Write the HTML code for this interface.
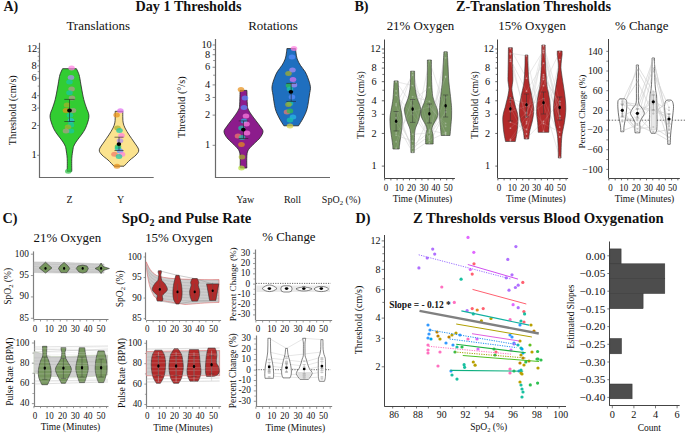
<!DOCTYPE html>
<html><head><meta charset="utf-8"><style>
html,body{margin:0;padding:0;background:#fff;}
svg{display:block;font-family:"Liberation Serif", serif;}
</style></head><body>
<svg width="685" height="435" viewBox="0 0 685 435">
<rect width="685" height="435" fill="#fff"/>
<text x="3.4" y="11.2" font-size="14.0" text-anchor="start" font-weight="bold" fill="#111">A)</text>
<text x="188.5" y="11.3" font-size="14.2" text-anchor="middle" font-weight="bold" fill="#111">Day 1 Thresholds</text>
<text x="98.2" y="30" font-size="12.96" text-anchor="middle" fill="#111">Translations</text>
<text x="273" y="30" font-size="12.96" text-anchor="middle" fill="#111">Rotations</text>
<line x1="39.50" y1="42.80" x2="39.50" y2="178.00" stroke="#6a6a6a" stroke-width="1.2"/>
<line x1="37.20" y1="155.30" x2="39.70" y2="155.30" stroke="#6a6a6a" stroke-width="0.8"/>
<text x="36.7" y="158.42000000000002" font-size="10.4" text-anchor="end" fill="#111">1</text>
<line x1="37.20" y1="125.50" x2="39.70" y2="125.50" stroke="#6a6a6a" stroke-width="0.8"/>
<text x="36.7" y="128.61803042926587" font-size="10.4" text-anchor="end" fill="#111">2</text>
<line x1="37.20" y1="108.06" x2="39.70" y2="108.06" stroke="#6a6a6a" stroke-width="0.8"/>
<text x="36.7" y="111.18499578275343" font-size="10.4" text-anchor="end" fill="#111">3</text>
<line x1="37.20" y1="95.70" x2="39.70" y2="95.70" stroke="#6a6a6a" stroke-width="0.8"/>
<text x="36.7" y="98.81606085853174" font-size="10.4" text-anchor="end" fill="#111">4</text>
<line x1="37.20" y1="78.26" x2="39.70" y2="78.26" stroke="#6a6a6a" stroke-width="0.8"/>
<text x="36.7" y="81.3830262120193" font-size="10.4" text-anchor="end" fill="#111">6</text>
<line x1="37.20" y1="65.89" x2="39.70" y2="65.89" stroke="#6a6a6a" stroke-width="0.8"/>
<text x="36.7" y="69.01409128779761" font-size="10.4" text-anchor="end" fill="#111">8</text>
<line x1="37.20" y1="48.46" x2="39.70" y2="48.46" stroke="#6a6a6a" stroke-width="0.8"/>
<text x="37.3" y="51.58105664128515" font-size="10.4" text-anchor="end" fill="#111">12</text>
<line x1="37.70" y1="86.10" x2="39.70" y2="86.10" stroke="#6a6a6a" stroke-width="0.7"/>
<line x1="37.70" y1="71.64" x2="39.70" y2="71.64" stroke="#6a6a6a" stroke-width="0.7"/>
<line x1="37.70" y1="60.83" x2="39.70" y2="60.83" stroke="#6a6a6a" stroke-width="0.7"/>
<line x1="37.70" y1="56.30" x2="39.70" y2="56.30" stroke="#6a6a6a" stroke-width="0.7"/>
<line x1="37.70" y1="52.20" x2="39.70" y2="52.20" stroke="#6a6a6a" stroke-width="0.7"/>
<line x1="39.70" y1="177.50" x2="153.70" y2="177.50" stroke="#6a6a6a" stroke-width="1.2"/>
<text x="16.2" y="110.2" font-size="10.2" text-anchor="middle" fill="#111" transform="rotate(-90 16.2 110.2)">Threshold (cm/s)</text>
<text x="69.5" y="203" font-size="10" text-anchor="middle" fill="#111">Z</text>
<text x="120.5" y="203" font-size="10" text-anchor="middle" fill="#111">Y</text>
<path d="M76.40,68.70 C76.67,69.25 77.48,70.70 78.00,72.00 C78.52,73.30 78.92,73.83 79.50,76.50 C80.08,79.17 80.78,84.17 81.50,88.00 C82.22,91.83 82.97,96.17 83.80,99.50 C84.63,102.83 85.72,105.70 86.50,108.00 C87.28,110.30 88.10,111.77 88.50,113.30 C88.90,114.83 89.02,115.75 88.90,117.20 C88.78,118.65 88.40,120.08 87.80,122.00 C87.20,123.92 86.27,126.70 85.30,128.70 C84.33,130.70 83.05,132.47 82.00,134.00 C80.95,135.53 80.00,136.57 79.00,137.90 C78.00,139.23 76.87,140.65 76.00,142.00 C75.13,143.35 74.30,144.80 73.80,146.00 C73.30,147.20 73.33,147.13 73.00,149.20 C72.67,151.27 72.00,154.72 71.80,158.40 C71.60,162.08 71.80,169.15 71.80,171.30 L67.20,171.30 C67.20,169.15 67.40,162.08 67.20,158.40 C67.00,154.72 66.33,151.27 66.00,149.20 C65.67,147.13 65.70,147.20 65.20,146.00 C64.70,144.80 63.87,143.35 63.00,142.00 C62.13,140.65 61.00,139.23 60.00,137.90 C59.00,136.57 58.05,135.53 57.00,134.00 C55.95,132.47 54.67,130.70 53.70,128.70 C52.73,126.70 51.80,123.92 51.20,122.00 C50.60,120.08 50.22,118.65 50.10,117.20 C49.98,115.75 50.10,114.83 50.50,113.30 C50.90,111.77 51.72,110.30 52.50,108.00 C53.28,105.70 54.37,102.83 55.20,99.50 C56.03,96.17 56.78,91.83 57.50,88.00 C58.22,84.17 58.92,79.17 59.50,76.50 C60.08,73.83 60.48,73.30 61.00,72.00 C61.52,70.70 62.33,69.25 62.60,68.70 Z" fill="#32cd32" stroke="#222" stroke-width="0.8" fill-opacity="1"/>
<ellipse cx="71.6" cy="68" rx="3.3" ry="2.5" fill="#ff7ee0" fill-opacity="0.72"/>
<ellipse cx="71" cy="77.6" rx="3.3" ry="2.5" fill="#b08cf5" fill-opacity="0.72"/>
<ellipse cx="69.5" cy="82" rx="3.3" ry="2.5" fill="#18c8a8" fill-opacity="0.72"/>
<ellipse cx="71.6" cy="89" rx="3.3" ry="2.5" fill="#b39a8c" fill-opacity="0.72"/>
<ellipse cx="69.5" cy="92.7" rx="3.3" ry="2.5" fill="#18c8a8" fill-opacity="0.72"/>
<ellipse cx="72" cy="98" rx="3.3" ry="2.5" fill="#b39a8c" fill-opacity="0.72"/>
<ellipse cx="67" cy="105" rx="3.3" ry="2.5" fill="#a8b02a" fill-opacity="0.72"/>
<ellipse cx="66" cy="110.5" rx="3.3" ry="2.5" fill="#e8901a" fill-opacity="0.72"/>
<ellipse cx="73" cy="110.5" rx="3.3" ry="2.5" fill="#b39a8c" fill-opacity="0.72"/>
<ellipse cx="70" cy="115.3" rx="3.3" ry="2.5" fill="#18c8a8" fill-opacity="0.72"/>
<ellipse cx="71" cy="120.6" rx="3.3" ry="2.5" fill="#28b8e8" fill-opacity="0.72"/>
<ellipse cx="71" cy="125" rx="3.3" ry="2.5" fill="#18c8a8" fill-opacity="0.72"/>
<ellipse cx="68" cy="127" rx="3.3" ry="2.5" fill="#a8b02a" fill-opacity="0.72"/>
<ellipse cx="71" cy="131" rx="3.3" ry="2.5" fill="#18c8a8" fill-opacity="0.72"/>
<ellipse cx="66" cy="131" rx="3.3" ry="2.5" fill="#b39a8c" fill-opacity="0.72"/>
<ellipse cx="68.3" cy="171.3" rx="3.3" ry="2.5" fill="#30c048" fill-opacity="0.72"/>
<line x1="69.50" y1="99.40" x2="69.50" y2="121.50" stroke="#222" stroke-width="0.6"/>
<line x1="64.30" y1="99.40" x2="74.70" y2="99.40" stroke="#222" stroke-width="0.6"/>
<line x1="64.30" y1="121.50" x2="74.70" y2="121.50" stroke="#222" stroke-width="0.6"/>
<ellipse cx="69.5" cy="110.4" rx="2.4" ry="2.0" fill="#000"/>
<path d="M122.80,111.30 C122.80,112.42 122.73,116.07 122.80,118.00 C122.87,119.93 122.83,121.23 123.20,122.90 C123.57,124.57 124.02,126.00 125.00,128.00 C125.98,130.00 127.60,132.57 129.10,134.90 C130.60,137.23 132.40,139.52 134.00,142.00 C135.60,144.48 138.37,147.63 138.70,149.80 C139.03,151.97 137.45,153.30 136.00,155.00 C134.55,156.70 132.00,158.13 130.00,160.00 C128.00,161.87 125.00,165.17 124.00,166.20 L114.00,166.20 C113.00,165.17 110.00,161.87 108.00,160.00 C106.00,158.13 103.45,156.70 102.00,155.00 C100.55,153.30 98.97,151.97 99.30,149.80 C99.63,147.63 102.40,144.48 104.00,142.00 C105.60,139.52 107.40,137.23 108.90,134.90 C110.40,132.57 112.02,130.00 113.00,128.00 C113.98,126.00 114.43,124.57 114.80,122.90 C115.17,121.23 115.13,119.93 115.20,118.00 C115.27,116.07 115.20,112.42 115.20,111.30 Z" fill="#fbe38f" stroke="#222" stroke-width="0.8" fill-opacity="1"/>
<ellipse cx="120.4" cy="110.7" rx="3.3" ry="2.5" fill="#e070f0" fill-opacity="0.72"/>
<ellipse cx="116.6" cy="115.1" rx="3.3" ry="2.5" fill="#e8901a" fill-opacity="0.72"/>
<ellipse cx="117.5" cy="128.1" rx="3.3" ry="2.5" fill="#a8b02a" fill-opacity="0.72"/>
<ellipse cx="119.5" cy="130.4" rx="3.3" ry="2.5" fill="#18c8a8" fill-opacity="0.72"/>
<ellipse cx="121.5" cy="135.6" rx="3.3" ry="2.5" fill="#ff7ee0" fill-opacity="0.72"/>
<ellipse cx="120" cy="140.8" rx="3.3" ry="2.5" fill="#b08cf5" fill-opacity="0.72"/>
<ellipse cx="118" cy="146.8" rx="3.3" ry="2.5" fill="#30c048" fill-opacity="0.72"/>
<ellipse cx="118" cy="148.5" rx="3.3" ry="2.5" fill="#18c8a8" fill-opacity="0.72"/>
<ellipse cx="120" cy="151" rx="3.3" ry="2.5" fill="#5a8cff" fill-opacity="0.72"/>
<ellipse cx="114.5" cy="154.3" rx="3.3" ry="2.5" fill="#f27a6a" fill-opacity="0.72"/>
<ellipse cx="122" cy="154.3" rx="3.3" ry="2.5" fill="#ff7ee0" fill-opacity="0.72"/>
<ellipse cx="119" cy="156.5" rx="3.3" ry="2.5" fill="#18c8a8" fill-opacity="0.72"/>
<ellipse cx="117" cy="166.2" rx="3.3" ry="2.5" fill="#e8901a" fill-opacity="0.72"/>
<line x1="119.00" y1="137.20" x2="119.00" y2="150.50" stroke="#222" stroke-width="0.6"/>
<line x1="114.50" y1="137.20" x2="123.50" y2="137.20" stroke="#222" stroke-width="0.6"/>
<line x1="114.50" y1="150.50" x2="123.50" y2="150.50" stroke="#222" stroke-width="0.6"/>
<ellipse cx="118.9" cy="144.1" rx="2.3" ry="1.9" fill="#000"/>
<line x1="215.50" y1="39.00" x2="215.50" y2="178.00" stroke="#6a6a6a" stroke-width="1.2"/>
<line x1="212.60" y1="145.30" x2="215.10" y2="145.30" stroke="#6a6a6a" stroke-width="0.8"/>
<text x="210.2" y="148.42000000000002" font-size="10.4" text-anchor="end" fill="#111">1</text>
<line x1="212.60" y1="115.11" x2="215.10" y2="115.11" stroke="#6a6a6a" stroke-width="0.8"/>
<text x="210.2" y="118.2266914349027" font-size="10.4" text-anchor="end" fill="#111">2</text>
<line x1="212.60" y1="97.44" x2="215.10" y2="97.44" stroke="#6a6a6a" stroke-width="0.8"/>
<text x="210.2" y="100.56473815161787" font-size="10.4" text-anchor="end" fill="#111">3</text>
<line x1="212.60" y1="84.91" x2="215.10" y2="84.91" stroke="#6a6a6a" stroke-width="0.8"/>
<text x="210.2" y="88.0333828698054" font-size="10.4" text-anchor="end" fill="#111">4</text>
<line x1="212.60" y1="67.25" x2="215.10" y2="67.25" stroke="#6a6a6a" stroke-width="0.8"/>
<text x="210.2" y="70.37142958652056" font-size="10.4" text-anchor="end" fill="#111">6</text>
<line x1="212.60" y1="54.72" x2="215.10" y2="54.72" stroke="#6a6a6a" stroke-width="0.8"/>
<text x="210.2" y="57.840074304708075" font-size="10.4" text-anchor="end" fill="#111">8</text>
<line x1="212.60" y1="45.00" x2="215.10" y2="45.00" stroke="#6a6a6a" stroke-width="0.8"/>
<text x="211.8" y="48.12000000000001" font-size="10.4" text-anchor="end" fill="#111">10</text>
<line x1="213.10" y1="75.19" x2="215.10" y2="75.19" stroke="#6a6a6a" stroke-width="0.7"/>
<line x1="213.10" y1="60.54" x2="215.10" y2="60.54" stroke="#6a6a6a" stroke-width="0.7"/>
<line x1="213.10" y1="49.59" x2="215.10" y2="49.59" stroke="#6a6a6a" stroke-width="0.7"/>
<line x1="215.10" y1="177.50" x2="330.00" y2="177.50" stroke="#6a6a6a" stroke-width="1.2"/>
<text x="185.3" y="107.2" font-size="10.2" text-anchor="middle" fill="#111" transform="rotate(-90 185.3 107.2)">Threshold (°/s)</text>
<text x="245.2" y="203" font-size="10" text-anchor="middle" fill="#111">Yaw</text>
<text x="292.5" y="203" font-size="10" text-anchor="middle" fill="#111">Roll</text>
<path d="M246.90,90.40 C246.96,92.48 247.07,99.82 247.25,102.90 C247.43,105.98 247.28,106.90 248.00,108.90 C248.72,110.90 250.25,112.90 251.60,114.90 C252.95,116.90 254.62,118.92 256.10,120.90 C257.58,122.88 259.35,125.02 260.50,126.80 C261.65,128.58 263.05,129.80 263.00,131.60 C262.95,133.40 261.65,135.62 260.20,137.60 C258.75,139.58 256.23,141.52 254.30,143.50 C252.37,145.48 249.83,147.50 248.60,149.50 C247.37,151.50 247.20,152.42 246.90,155.50 C246.60,158.58 246.82,165.92 246.80,168.00 L240.20,168.00 C240.18,165.92 240.40,158.58 240.10,155.50 C239.80,152.42 239.63,151.50 238.40,149.50 C237.17,147.50 234.63,145.48 232.70,143.50 C230.77,141.52 228.25,139.58 226.80,137.60 C225.35,135.62 224.05,133.40 224.00,131.60 C223.95,129.80 225.35,128.58 226.50,126.80 C227.65,125.02 229.42,122.88 230.90,120.90 C232.38,118.92 234.05,116.90 235.40,114.90 C236.75,112.90 238.28,110.90 239.00,108.90 C239.72,106.90 239.57,105.98 239.75,102.90 C239.93,99.82 240.04,92.48 240.10,90.40 Z" fill="#8c1c8c" stroke="#222" stroke-width="0.8" fill-opacity="1"/>
<ellipse cx="241" cy="89.5" rx="3.3" ry="2.5" fill="#e8901a" fill-opacity="0.72"/>
<ellipse cx="245" cy="98" rx="3.3" ry="2.5" fill="#5a8cff" fill-opacity="0.72"/>
<ellipse cx="244" cy="107.5" rx="3.3" ry="2.5" fill="#5a8cff" fill-opacity="0.72"/>
<ellipse cx="246" cy="116" rx="3.3" ry="2.5" fill="#ff7ee0" fill-opacity="0.72"/>
<ellipse cx="244" cy="121" rx="3.3" ry="2.5" fill="#28b8e8" fill-opacity="0.72"/>
<ellipse cx="246.5" cy="124" rx="3.3" ry="2.5" fill="#ff7ee0" fill-opacity="0.72"/>
<ellipse cx="241.5" cy="128" rx="3.3" ry="2.5" fill="#18c8a8" fill-opacity="0.72"/>
<ellipse cx="247" cy="133" rx="3.3" ry="2.5" fill="#ff7ee0" fill-opacity="0.72"/>
<ellipse cx="238" cy="136" rx="3.3" ry="2.5" fill="#f27a6a" fill-opacity="0.72"/>
<ellipse cx="242" cy="137.5" rx="3.3" ry="2.5" fill="#18c8a8" fill-opacity="0.72"/>
<ellipse cx="241.5" cy="144.5" rx="3.3" ry="2.5" fill="#e8901a" fill-opacity="0.72"/>
<ellipse cx="242" cy="157" rx="3.3" ry="2.5" fill="#a8b02a" fill-opacity="0.72"/>
<ellipse cx="241.5" cy="168" rx="3.3" ry="2.5" fill="#b8e040" fill-opacity="0.72"/>
<line x1="243.50" y1="120.90" x2="243.50" y2="138.50" stroke="#222" stroke-width="0.6"/>
<line x1="238.70" y1="120.90" x2="248.30" y2="120.90" stroke="#222" stroke-width="0.6"/>
<line x1="238.70" y1="138.50" x2="248.30" y2="138.50" stroke="#222" stroke-width="0.6"/>
<ellipse cx="243.3" cy="129.6" rx="2.3" ry="1.9" fill="#000"/>
<path d="M295.50,48.60 C295.58,49.33 295.72,51.27 296.00,53.00 C296.28,54.73 296.47,56.95 297.20,59.00 C297.93,61.05 299.10,63.20 300.40,65.30 C301.70,67.40 303.75,69.50 305.00,71.60 C306.25,73.70 307.00,75.37 307.90,77.90 C308.80,80.43 310.15,83.95 310.40,86.80 C310.65,89.65 309.95,91.33 309.40,95.00 C308.85,98.67 308.13,104.97 307.10,108.80 C306.07,112.63 304.63,115.17 303.20,118.00 C301.77,120.83 299.28,124.50 298.50,125.80 L283.90,125.80 C283.12,124.50 280.63,120.83 279.20,118.00 C277.77,115.17 276.33,112.63 275.30,108.80 C274.27,104.97 273.55,98.67 273.00,95.00 C272.45,91.33 271.75,89.65 272.00,86.80 C272.25,83.95 273.60,80.43 274.50,77.90 C275.40,75.37 276.15,73.70 277.40,71.60 C278.65,69.50 280.70,67.40 282.00,65.30 C283.30,63.20 284.47,61.05 285.20,59.00 C285.93,56.95 286.12,54.73 286.40,53.00 C286.68,51.27 286.82,49.33 286.90,48.60 Z" fill="#1f6fbf" stroke="#222" stroke-width="0.8" fill-opacity="1"/>
<ellipse cx="294" cy="48.6" rx="3.3" ry="2.5" fill="#ff7ee0" fill-opacity="0.72"/>
<ellipse cx="292" cy="57" rx="3.3" ry="2.5" fill="#5a8cff" fill-opacity="0.72"/>
<ellipse cx="292.5" cy="70" rx="3.3" ry="2.5" fill="#b08cf5" fill-opacity="0.72"/>
<ellipse cx="288.5" cy="73.5" rx="3.3" ry="2.5" fill="#a8b02a" fill-opacity="0.72"/>
<ellipse cx="293" cy="79.5" rx="3.3" ry="2.5" fill="#e070f0" fill-opacity="0.72"/>
<ellipse cx="289" cy="85.5" rx="3.3" ry="2.5" fill="#30c048" fill-opacity="0.72"/>
<ellipse cx="294" cy="85" rx="3.3" ry="2.5" fill="#b08cf5" fill-opacity="0.72"/>
<ellipse cx="290" cy="89" rx="3.3" ry="2.5" fill="#18c8a8" fill-opacity="0.72"/>
<ellipse cx="292" cy="97" rx="3.3" ry="2.5" fill="#5a8cff" fill-opacity="0.72"/>
<ellipse cx="290" cy="103.5" rx="3.3" ry="2.5" fill="#18c8a8" fill-opacity="0.72"/>
<ellipse cx="288.5" cy="104.5" rx="3.3" ry="2.5" fill="#a8b02a" fill-opacity="0.72"/>
<ellipse cx="287" cy="112" rx="3.3" ry="2.5" fill="#f27a6a" fill-opacity="0.72"/>
<ellipse cx="290" cy="111" rx="3.3" ry="2.5" fill="#30c048" fill-opacity="0.72"/>
<ellipse cx="293" cy="117" rx="3.3" ry="2.5" fill="#28b8e8" fill-opacity="0.72"/>
<ellipse cx="290" cy="120" rx="3.3" ry="2.5" fill="#18c8a8" fill-opacity="0.72"/>
<ellipse cx="290" cy="126" rx="3.3" ry="2.5" fill="#d8d040" fill-opacity="0.72"/>
<line x1="291.20" y1="83.40" x2="291.20" y2="101.40" stroke="#222" stroke-width="0.6"/>
<line x1="286.40" y1="83.40" x2="296.00" y2="83.40" stroke="#222" stroke-width="0.6"/>
<line x1="286.40" y1="101.40" x2="296.00" y2="101.40" stroke="#222" stroke-width="0.6"/>
<ellipse cx="290.9" cy="91.8" rx="2.3" ry="1.9" fill="#000"/>
<text x="354.4" y="11.3" font-size="14.2" text-anchor="start" font-weight="bold" fill="#111">B)</text>
<text x="533.5" y="11" font-size="14.2" text-anchor="middle" font-weight="bold" fill="#111">Z-Translation Thresholds</text>
<text x="420.5" y="30" font-size="12.9" text-anchor="middle" fill="#111">21% Oxygen</text>
<text x="532.1" y="30" font-size="12.9" text-anchor="middle" fill="#111">15% Oxygen</text>
<text x="641.7" y="30" font-size="12.9" text-anchor="middle" fill="#111">% Change</text>
<line x1="384.50" y1="39.50" x2="384.50" y2="178.20" stroke="#444" stroke-width="1"/>
<line x1="381.80" y1="166.10" x2="384.30" y2="166.10" stroke="#444" stroke-width="0.8"/>
<text x="376.7" y="169.19" font-size="10.3" text-anchor="end" fill="#111">1</text>
<line x1="381.80" y1="133.44" x2="384.30" y2="133.44" stroke="#444" stroke-width="0.8"/>
<text x="376.7" y="136.52824547045805" font-size="10.3" text-anchor="end" fill="#111">2</text>
<line x1="381.80" y1="114.33" x2="384.30" y2="114.33" stroke="#444" stroke-width="0.8"/>
<text x="376.7" y="117.42234386291662" font-size="10.3" text-anchor="end" fill="#111">3</text>
<line x1="381.80" y1="100.78" x2="384.30" y2="100.78" stroke="#444" stroke-width="0.8"/>
<text x="376.7" y="103.86649094091608" font-size="10.3" text-anchor="end" fill="#111">4</text>
<line x1="381.80" y1="81.67" x2="384.30" y2="81.67" stroke="#444" stroke-width="0.8"/>
<text x="376.7" y="84.76058933337467" font-size="10.3" text-anchor="end" fill="#111">6</text>
<line x1="381.80" y1="68.11" x2="384.30" y2="68.11" stroke="#444" stroke-width="0.8"/>
<text x="376.7" y="71.20473641137413" font-size="10.3" text-anchor="end" fill="#111">8</text>
<line x1="381.80" y1="49.01" x2="384.30" y2="49.01" stroke="#444" stroke-width="0.8"/>
<text x="380.6" y="52.0988348038327" font-size="10.3" text-anchor="end" fill="#111">12</text>
<line x1="382.30" y1="90.26" x2="384.30" y2="90.26" stroke="#444" stroke-width="0.7"/>
<line x1="382.30" y1="74.41" x2="384.30" y2="74.41" stroke="#444" stroke-width="0.7"/>
<line x1="382.30" y1="62.56" x2="384.30" y2="62.56" stroke="#444" stroke-width="0.7"/>
<line x1="382.30" y1="57.60" x2="384.30" y2="57.60" stroke="#444" stroke-width="0.7"/>
<line x1="382.30" y1="53.11" x2="384.30" y2="53.11" stroke="#444" stroke-width="0.7"/>
<line x1="384.70" y1="178.50" x2="454.90" y2="178.50" stroke="#444" stroke-width="1"/>
<line x1="384.70" y1="178.20" x2="384.70" y2="180.40" stroke="#444" stroke-width="0.8"/>
<line x1="390.90" y1="178.20" x2="390.90" y2="180.40" stroke="#444" stroke-width="0.8"/>
<line x1="397.10" y1="178.20" x2="397.10" y2="180.40" stroke="#444" stroke-width="0.8"/>
<line x1="403.30" y1="178.20" x2="403.30" y2="180.40" stroke="#444" stroke-width="0.8"/>
<line x1="409.50" y1="178.20" x2="409.50" y2="180.40" stroke="#444" stroke-width="0.8"/>
<line x1="415.70" y1="178.20" x2="415.70" y2="180.40" stroke="#444" stroke-width="0.8"/>
<line x1="421.90" y1="178.20" x2="421.90" y2="180.40" stroke="#444" stroke-width="0.8"/>
<line x1="428.10" y1="178.20" x2="428.10" y2="180.40" stroke="#444" stroke-width="0.8"/>
<line x1="434.30" y1="178.20" x2="434.30" y2="180.40" stroke="#444" stroke-width="0.8"/>
<line x1="440.50" y1="178.20" x2="440.50" y2="180.40" stroke="#444" stroke-width="0.8"/>
<line x1="446.70" y1="178.20" x2="446.70" y2="180.40" stroke="#444" stroke-width="0.8"/>
<line x1="452.90" y1="178.20" x2="452.90" y2="180.40" stroke="#444" stroke-width="0.8"/>
<text x="0" y="0" font-size="10.2" text-anchor="middle" fill="#111" transform="translate(385.9 190.6) scale(0.88 1)">0</text>
<text x="0" y="0" font-size="10.2" text-anchor="middle" fill="#111" transform="translate(399.2 190.6) scale(0.88 1)">10</text>
<text x="0" y="0" font-size="10.2" text-anchor="middle" fill="#111" transform="translate(411.6 190.6) scale(0.88 1)">20</text>
<text x="0" y="0" font-size="10.2" text-anchor="middle" fill="#111" transform="translate(424 190.6) scale(0.88 1)">30</text>
<text x="0" y="0" font-size="10.2" text-anchor="middle" fill="#111" transform="translate(435.8 190.6) scale(0.88 1)">40</text>
<text x="0" y="0" font-size="10.2" text-anchor="middle" fill="#111" transform="translate(448.2 190.6) scale(0.88 1)">50</text>
<text x="422.5" y="202.2" font-size="9.5" text-anchor="middle" fill="#111">Time (Minutes)</text>
<text x="364.4" y="105" font-size="9.9" text-anchor="middle" fill="#111" transform="rotate(-90 364.4 105)">Threshold (cm/s)</text>
<path d="M396.1,117.9 L412.6,145.8 L429.4,131.7 L445.6,52.6" fill="none" stroke="#d4d4d4" stroke-width="0.5" stroke-opacity="1.0"/>
<path d="M396.1,135.2 L412.6,141.2 L429.4,60.8 L445.6,109.5" fill="none" stroke="#d4d4d4" stroke-width="0.5" stroke-opacity="1.0"/>
<path d="M396.1,90.8 L412.6,134.3 L429.4,132.9 L445.6,76.3" fill="none" stroke="#d4d4d4" stroke-width="0.5" stroke-opacity="1.0"/>
<path d="M396.1,117.6 L412.6,72.0 L429.4,130.2 L445.6,133.8" fill="none" stroke="#d4d4d4" stroke-width="0.5" stroke-opacity="1.0"/>
<path d="M396.1,81.7 L412.6,85.6 L429.4,106.0 L445.6,126.4" fill="none" stroke="#d4d4d4" stroke-width="0.5" stroke-opacity="1.0"/>
<path d="M396.1,148.2 L412.6,96.6 L429.4,101.3 L445.6,132.5" fill="none" stroke="#d4d4d4" stroke-width="0.5" stroke-opacity="1.0"/>
<path d="M396.1,141.8 L412.6,100.1 L429.4,87.4 L445.6,134.7" fill="none" stroke="#d4d4d4" stroke-width="0.5" stroke-opacity="1.0"/>
<path d="M396.1,95.2 L412.6,114.6 L429.4,137.5 L445.6,57.8" fill="none" stroke="#d4d4d4" stroke-width="0.5" stroke-opacity="1.0"/>
<path d="M396.1,105.5 L412.6,151.8 L429.4,140.4 L445.6,132.8" fill="none" stroke="#d4d4d4" stroke-width="0.5" stroke-opacity="1.0"/>
<path d="M396.1,112.8 L412.6,148.2 L429.4,135.8 L445.6,111.9" fill="none" stroke="#d4d4d4" stroke-width="0.5" stroke-opacity="1.0"/>
<path d="M396.1,133.0 L412.6,111.4 L429.4,107.0 L445.6,123.4" fill="none" stroke="#d4d4d4" stroke-width="0.5" stroke-opacity="1.0"/>
<path d="M396.1,122.9 L412.6,152.3 L429.4,116.6 L445.6,77.0" fill="none" stroke="#d4d4d4" stroke-width="0.5" stroke-opacity="1.0"/>
<path d="M396.1,81.8 L412.6,105.5 L429.4,138.8 L445.6,97.7" fill="none" stroke="#d4d4d4" stroke-width="0.5" stroke-opacity="1.0"/>
<path d="M396.1,103.9 L412.6,75.0 L429.4,143.2 L445.6,111.9" fill="none" stroke="#d4d4d4" stroke-width="0.5" stroke-opacity="1.0"/>
<path d="M398.12,80.90 C398.20,82.42 398.41,87.10 398.59,90.00 C398.76,92.90 398.93,95.97 399.16,98.30 C399.39,100.63 399.64,102.00 399.97,104.00 C400.29,106.00 400.79,108.47 401.12,110.30 C401.44,112.13 401.73,113.38 401.92,115.00 C402.11,116.62 402.27,118.00 402.27,120.00 C402.27,122.00 402.13,124.58 401.92,127.00 C401.71,129.42 401.29,132.33 401.00,134.50 C400.71,136.67 400.44,138.20 400.20,140.00 C399.95,141.80 399.66,143.80 399.50,145.30 C399.35,146.80 399.31,148.38 399.28,149.00 L392.93,149.00 C392.89,148.38 392.85,146.80 392.70,145.30 C392.54,143.80 392.25,141.80 392.00,140.00 C391.76,138.20 391.49,136.67 391.20,134.50 C390.91,132.33 390.49,129.42 390.28,127.00 C390.07,124.58 389.94,122.00 389.94,120.00 C389.94,118.00 390.09,116.62 390.28,115.00 C390.47,113.38 390.76,112.13 391.09,110.30 C391.41,108.47 391.91,106.00 392.24,104.00 C392.56,102.00 392.81,100.63 393.04,98.30 C393.27,95.97 393.44,92.90 393.62,90.00 C393.79,87.10 394.00,82.42 394.08,80.90 Z" fill="#759460" stroke="#333" stroke-width="0.6" fill-opacity="1"/>
<path d="M414.62,71.20 C414.62,72.33 414.57,75.50 414.62,78.00 C414.68,80.50 414.78,83.87 414.97,86.20 C415.16,88.53 415.41,89.98 415.78,92.00 C416.14,94.02 416.56,96.30 417.16,98.30 C417.75,100.30 418.75,102.20 419.34,104.00 C419.93,105.80 420.61,107.27 420.72,109.10 C420.84,110.93 420.51,112.78 420.03,115.00 C419.55,117.22 418.54,120.40 417.85,122.40 C417.16,124.40 416.41,125.40 415.89,127.00 C415.37,128.60 414.99,129.83 414.74,132.00 C414.49,134.17 414.47,136.57 414.40,140.00 C414.32,143.43 414.30,150.50 414.28,152.60 L410.92,152.60 C410.90,150.50 410.88,143.43 410.81,140.00 C410.73,136.57 410.71,134.17 410.46,132.00 C410.21,129.83 409.83,128.60 409.31,127.00 C408.79,125.40 408.05,124.40 407.36,122.40 C406.67,120.40 405.65,117.22 405.17,115.00 C404.69,112.78 404.37,110.93 404.48,109.10 C404.60,107.27 405.27,105.80 405.86,104.00 C406.45,102.20 407.45,100.30 408.05,98.30 C408.64,96.30 409.06,94.02 409.43,92.00 C409.79,89.98 410.04,88.53 410.23,86.20 C410.42,83.87 410.52,80.50 410.58,78.00 C410.63,75.50 410.58,72.33 410.58,71.20 Z" fill="#759460" stroke="#333" stroke-width="0.6" fill-opacity="1"/>
<path d="M431.42,60.00 C431.42,61.67 431.39,66.47 431.42,70.00 C431.46,73.53 431.50,77.32 431.65,81.20 C431.81,85.08 432.10,90.50 432.34,93.30 C432.59,96.10 432.77,96.40 433.15,98.00 C433.53,99.60 434.03,101.23 434.64,102.90 C435.26,104.57 436.27,106.18 436.83,108.00 C437.39,109.82 437.96,112.13 437.98,113.80 C438.00,115.47 437.50,116.60 436.94,118.00 C436.39,119.40 435.35,120.87 434.64,122.20 C433.94,123.53 433.15,124.78 432.69,126.00 C432.23,127.22 431.88,128.33 431.88,129.50 C431.88,130.67 432.48,131.80 432.69,133.00 C432.90,134.20 433.07,134.87 433.15,136.70 C433.23,138.53 433.15,142.78 433.15,144.00 L425.65,144.00 C425.65,142.78 425.57,138.53 425.65,136.70 C425.73,134.87 425.90,134.20 426.11,133.00 C426.32,131.80 426.91,130.67 426.91,129.50 C426.91,128.33 426.57,127.22 426.11,126.00 C425.65,124.78 424.86,123.53 424.15,122.20 C423.45,120.87 422.41,119.40 421.85,118.00 C421.30,116.60 420.80,115.47 420.82,113.80 C420.84,112.13 421.41,109.82 421.97,108.00 C422.53,106.18 423.54,104.57 424.15,102.90 C424.77,101.23 425.27,99.60 425.65,98.00 C426.03,96.40 426.21,96.10 426.45,93.30 C426.70,90.50 426.99,85.08 427.14,81.20 C427.30,77.32 427.34,73.53 427.38,70.00 C427.41,66.47 427.38,61.67 427.38,60.00 Z" fill="#759460" stroke="#333" stroke-width="0.6" fill-opacity="1"/>
<path d="M447.28,51.80 C447.36,53.17 447.59,57.12 447.74,60.00 C447.89,62.88 448.03,65.57 448.20,69.10 C448.37,72.63 448.45,77.17 448.78,81.20 C449.10,85.23 449.71,89.28 450.16,93.30 C450.60,97.32 451.17,102.18 451.42,105.30 C451.67,108.42 451.63,109.88 451.65,112.00 C451.67,114.12 451.65,115.88 451.54,118.00 C451.42,120.12 451.13,122.70 450.96,124.70 C450.79,126.70 450.65,128.20 450.50,130.00 C450.35,131.80 450.12,134.58 450.04,135.50 L441.16,135.50 C441.08,134.58 440.85,131.80 440.70,130.00 C440.55,128.20 440.41,126.70 440.24,124.70 C440.07,122.70 439.78,120.12 439.67,118.00 C439.55,115.88 439.53,114.12 439.55,112.00 C439.57,109.88 439.53,108.42 439.78,105.30 C440.03,102.18 440.60,97.32 441.05,93.30 C441.49,89.28 442.10,85.23 442.43,81.20 C442.75,77.17 442.83,72.63 443.00,69.10 C443.17,65.57 443.31,62.88 443.46,60.00 C443.61,57.12 443.84,53.17 443.92,51.80 Z" fill="#759460" stroke="#333" stroke-width="0.6" fill-opacity="1"/>
<path d="M396.1,117.9 L412.6,145.8 L429.4,131.7 L445.6,52.6" fill="none" stroke="#d8d8d8" stroke-width="0.45" stroke-opacity="0.25"/>
<path d="M396.1,135.2 L412.6,141.2 L429.4,60.8 L445.6,109.5" fill="none" stroke="#d8d8d8" stroke-width="0.45" stroke-opacity="0.25"/>
<path d="M396.1,90.8 L412.6,134.3 L429.4,132.9 L445.6,76.3" fill="none" stroke="#d8d8d8" stroke-width="0.45" stroke-opacity="0.25"/>
<path d="M396.1,117.6 L412.6,72.0 L429.4,130.2 L445.6,133.8" fill="none" stroke="#d8d8d8" stroke-width="0.45" stroke-opacity="0.25"/>
<path d="M396.1,81.7 L412.6,85.6 L429.4,106.0 L445.6,126.4" fill="none" stroke="#d8d8d8" stroke-width="0.45" stroke-opacity="0.25"/>
<path d="M396.1,148.2 L412.6,96.6 L429.4,101.3 L445.6,132.5" fill="none" stroke="#d8d8d8" stroke-width="0.45" stroke-opacity="0.25"/>
<path d="M396.1,141.8 L412.6,100.1 L429.4,87.4 L445.6,134.7" fill="none" stroke="#d8d8d8" stroke-width="0.45" stroke-opacity="0.25"/>
<path d="M396.1,95.2 L412.6,114.6 L429.4,137.5 L445.6,57.8" fill="none" stroke="#d8d8d8" stroke-width="0.45" stroke-opacity="0.25"/>
<path d="M396.1,105.5 L412.6,151.8 L429.4,140.4 L445.6,132.8" fill="none" stroke="#d8d8d8" stroke-width="0.45" stroke-opacity="0.25"/>
<path d="M396.1,112.8 L412.6,148.2 L429.4,135.8 L445.6,111.9" fill="none" stroke="#d8d8d8" stroke-width="0.45" stroke-opacity="0.25"/>
<path d="M396.1,133.0 L412.6,111.4 L429.4,107.0 L445.6,123.4" fill="none" stroke="#d8d8d8" stroke-width="0.45" stroke-opacity="0.25"/>
<path d="M396.1,122.9 L412.6,152.3 L429.4,116.6 L445.6,77.0" fill="none" stroke="#d8d8d8" stroke-width="0.45" stroke-opacity="0.25"/>
<path d="M396.1,81.8 L412.6,105.5 L429.4,138.8 L445.6,97.7" fill="none" stroke="#d8d8d8" stroke-width="0.45" stroke-opacity="0.25"/>
<path d="M396.1,103.9 L412.6,75.0 L429.4,143.2 L445.6,111.9" fill="none" stroke="#d8d8d8" stroke-width="0.45" stroke-opacity="0.25"/>
<circle cx="396.1" cy="117.9" r="0.9" fill="#c8d0c0" fill-opacity="0.45"/>
<circle cx="396.1" cy="135.2" r="0.9" fill="#c8d0c0" fill-opacity="0.45"/>
<circle cx="396.1" cy="90.8" r="0.9" fill="#c8d0c0" fill-opacity="0.45"/>
<circle cx="396.1" cy="117.6" r="0.9" fill="#c8d0c0" fill-opacity="0.45"/>
<circle cx="396.1" cy="81.7" r="0.9" fill="#c8d0c0" fill-opacity="0.45"/>
<circle cx="396.1" cy="148.2" r="0.9" fill="#c8d0c0" fill-opacity="0.45"/>
<circle cx="396.1" cy="141.8" r="0.9" fill="#c8d0c0" fill-opacity="0.45"/>
<circle cx="396.1" cy="95.2" r="0.9" fill="#c8d0c0" fill-opacity="0.45"/>
<circle cx="396.1" cy="105.5" r="0.9" fill="#c8d0c0" fill-opacity="0.45"/>
<circle cx="396.1" cy="112.8" r="0.9" fill="#c8d0c0" fill-opacity="0.45"/>
<circle cx="396.1" cy="133.0" r="0.9" fill="#c8d0c0" fill-opacity="0.45"/>
<circle cx="396.1" cy="122.9" r="0.9" fill="#c8d0c0" fill-opacity="0.45"/>
<circle cx="396.1" cy="81.8" r="0.9" fill="#c8d0c0" fill-opacity="0.45"/>
<circle cx="396.1" cy="103.9" r="0.9" fill="#c8d0c0" fill-opacity="0.45"/>
<circle cx="412.6" cy="145.8" r="0.9" fill="#c8d0c0" fill-opacity="0.45"/>
<circle cx="412.6" cy="141.2" r="0.9" fill="#c8d0c0" fill-opacity="0.45"/>
<circle cx="412.6" cy="134.3" r="0.9" fill="#c8d0c0" fill-opacity="0.45"/>
<circle cx="412.6" cy="72.0" r="0.9" fill="#c8d0c0" fill-opacity="0.45"/>
<circle cx="412.6" cy="85.6" r="0.9" fill="#c8d0c0" fill-opacity="0.45"/>
<circle cx="412.6" cy="96.6" r="0.9" fill="#c8d0c0" fill-opacity="0.45"/>
<circle cx="412.6" cy="100.1" r="0.9" fill="#c8d0c0" fill-opacity="0.45"/>
<circle cx="412.6" cy="114.6" r="0.9" fill="#c8d0c0" fill-opacity="0.45"/>
<circle cx="412.6" cy="151.8" r="0.9" fill="#c8d0c0" fill-opacity="0.45"/>
<circle cx="412.6" cy="148.2" r="0.9" fill="#c8d0c0" fill-opacity="0.45"/>
<circle cx="412.6" cy="111.4" r="0.9" fill="#c8d0c0" fill-opacity="0.45"/>
<circle cx="412.6" cy="152.3" r="0.9" fill="#c8d0c0" fill-opacity="0.45"/>
<circle cx="412.6" cy="105.5" r="0.9" fill="#c8d0c0" fill-opacity="0.45"/>
<circle cx="412.6" cy="75.0" r="0.9" fill="#c8d0c0" fill-opacity="0.45"/>
<circle cx="429.4" cy="131.7" r="0.9" fill="#c8d0c0" fill-opacity="0.45"/>
<circle cx="429.4" cy="60.8" r="0.9" fill="#c8d0c0" fill-opacity="0.45"/>
<circle cx="429.4" cy="132.9" r="0.9" fill="#c8d0c0" fill-opacity="0.45"/>
<circle cx="429.4" cy="130.2" r="0.9" fill="#c8d0c0" fill-opacity="0.45"/>
<circle cx="429.4" cy="106.0" r="0.9" fill="#c8d0c0" fill-opacity="0.45"/>
<circle cx="429.4" cy="101.3" r="0.9" fill="#c8d0c0" fill-opacity="0.45"/>
<circle cx="429.4" cy="87.4" r="0.9" fill="#c8d0c0" fill-opacity="0.45"/>
<circle cx="429.4" cy="137.5" r="0.9" fill="#c8d0c0" fill-opacity="0.45"/>
<circle cx="429.4" cy="140.4" r="0.9" fill="#c8d0c0" fill-opacity="0.45"/>
<circle cx="429.4" cy="135.8" r="0.9" fill="#c8d0c0" fill-opacity="0.45"/>
<circle cx="429.4" cy="107.0" r="0.9" fill="#c8d0c0" fill-opacity="0.45"/>
<circle cx="429.4" cy="116.6" r="0.9" fill="#c8d0c0" fill-opacity="0.45"/>
<circle cx="429.4" cy="138.8" r="0.9" fill="#c8d0c0" fill-opacity="0.45"/>
<circle cx="429.4" cy="143.2" r="0.9" fill="#c8d0c0" fill-opacity="0.45"/>
<circle cx="445.6" cy="52.6" r="0.9" fill="#c8d0c0" fill-opacity="0.45"/>
<circle cx="445.6" cy="109.5" r="0.9" fill="#c8d0c0" fill-opacity="0.45"/>
<circle cx="445.6" cy="76.3" r="0.9" fill="#c8d0c0" fill-opacity="0.45"/>
<circle cx="445.6" cy="133.8" r="0.9" fill="#c8d0c0" fill-opacity="0.45"/>
<circle cx="445.6" cy="126.4" r="0.9" fill="#c8d0c0" fill-opacity="0.45"/>
<circle cx="445.6" cy="132.5" r="0.9" fill="#c8d0c0" fill-opacity="0.45"/>
<circle cx="445.6" cy="134.7" r="0.9" fill="#c8d0c0" fill-opacity="0.45"/>
<circle cx="445.6" cy="57.8" r="0.9" fill="#c8d0c0" fill-opacity="0.45"/>
<circle cx="445.6" cy="132.8" r="0.9" fill="#c8d0c0" fill-opacity="0.45"/>
<circle cx="445.6" cy="111.9" r="0.9" fill="#c8d0c0" fill-opacity="0.45"/>
<circle cx="445.6" cy="123.4" r="0.9" fill="#c8d0c0" fill-opacity="0.45"/>
<circle cx="445.6" cy="77.0" r="0.9" fill="#c8d0c0" fill-opacity="0.45"/>
<circle cx="445.6" cy="97.7" r="0.9" fill="#c8d0c0" fill-opacity="0.45"/>
<circle cx="445.6" cy="111.9" r="0.9" fill="#c8d0c0" fill-opacity="0.45"/>
<line x1="396.10" y1="111.50" x2="396.10" y2="130.90" stroke="#333" stroke-width="0.5"/>
<line x1="393.50" y1="111.50" x2="398.70" y2="111.50" stroke="#333" stroke-width="0.5"/>
<line x1="393.50" y1="130.90" x2="398.70" y2="130.90" stroke="#333" stroke-width="0.5"/>
<ellipse cx="396.1" cy="121.2" rx="1.25" ry="1.8" fill="#000"/>
<line x1="412.60" y1="99.50" x2="412.60" y2="122.40" stroke="#333" stroke-width="0.5"/>
<line x1="410.00" y1="99.50" x2="415.20" y2="99.50" stroke="#333" stroke-width="0.5"/>
<line x1="410.00" y1="122.40" x2="415.20" y2="122.40" stroke="#333" stroke-width="0.5"/>
<ellipse cx="412.6" cy="109.1" rx="1.25" ry="1.8" fill="#000"/>
<line x1="429.40" y1="104.00" x2="429.40" y2="123.00" stroke="#333" stroke-width="0.5"/>
<line x1="426.80" y1="104.00" x2="432.00" y2="104.00" stroke="#333" stroke-width="0.5"/>
<line x1="426.80" y1="123.00" x2="432.00" y2="123.00" stroke="#333" stroke-width="0.5"/>
<ellipse cx="429.4" cy="113.8" rx="1.25" ry="1.8" fill="#000"/>
<line x1="445.60" y1="95.00" x2="445.60" y2="117.00" stroke="#333" stroke-width="0.5"/>
<line x1="443.00" y1="95.00" x2="448.20" y2="95.00" stroke="#333" stroke-width="0.5"/>
<line x1="443.00" y1="117.00" x2="448.20" y2="117.00" stroke="#333" stroke-width="0.5"/>
<ellipse cx="445.6" cy="105.8" rx="1.25" ry="1.8" fill="#000"/>
<line x1="497.50" y1="39.50" x2="497.50" y2="178.20" stroke="#444" stroke-width="1"/>
<line x1="495.30" y1="166.10" x2="497.80" y2="166.10" stroke="#444" stroke-width="0.8"/>
<text x="490.1" y="169.19" font-size="10.3" text-anchor="end" fill="#111">1</text>
<line x1="495.30" y1="133.44" x2="497.80" y2="133.44" stroke="#444" stroke-width="0.8"/>
<text x="490.1" y="136.52824547045805" font-size="10.3" text-anchor="end" fill="#111">2</text>
<line x1="495.30" y1="114.33" x2="497.80" y2="114.33" stroke="#444" stroke-width="0.8"/>
<text x="490.1" y="117.42234386291662" font-size="10.3" text-anchor="end" fill="#111">3</text>
<line x1="495.30" y1="100.78" x2="497.80" y2="100.78" stroke="#444" stroke-width="0.8"/>
<text x="490.1" y="103.86649094091608" font-size="10.3" text-anchor="end" fill="#111">4</text>
<line x1="495.30" y1="81.67" x2="497.80" y2="81.67" stroke="#444" stroke-width="0.8"/>
<text x="490.1" y="84.76058933337467" font-size="10.3" text-anchor="end" fill="#111">6</text>
<line x1="495.30" y1="68.11" x2="497.80" y2="68.11" stroke="#444" stroke-width="0.8"/>
<text x="490.1" y="71.20473641137413" font-size="10.3" text-anchor="end" fill="#111">8</text>
<line x1="495.30" y1="49.01" x2="497.80" y2="49.01" stroke="#444" stroke-width="0.8"/>
<text x="493.8" y="52.0988348038327" font-size="10.3" text-anchor="end" fill="#111">12</text>
<line x1="495.80" y1="90.26" x2="497.80" y2="90.26" stroke="#444" stroke-width="0.7"/>
<line x1="495.80" y1="74.41" x2="497.80" y2="74.41" stroke="#444" stroke-width="0.7"/>
<line x1="495.80" y1="62.56" x2="497.80" y2="62.56" stroke="#444" stroke-width="0.7"/>
<line x1="495.80" y1="57.60" x2="497.80" y2="57.60" stroke="#444" stroke-width="0.7"/>
<line x1="495.80" y1="53.11" x2="497.80" y2="53.11" stroke="#444" stroke-width="0.7"/>
<line x1="497.90" y1="178.50" x2="568.10" y2="178.50" stroke="#444" stroke-width="1"/>
<line x1="497.90" y1="178.20" x2="497.90" y2="180.40" stroke="#444" stroke-width="0.8"/>
<line x1="504.10" y1="178.20" x2="504.10" y2="180.40" stroke="#444" stroke-width="0.8"/>
<line x1="510.30" y1="178.20" x2="510.30" y2="180.40" stroke="#444" stroke-width="0.8"/>
<line x1="516.50" y1="178.20" x2="516.50" y2="180.40" stroke="#444" stroke-width="0.8"/>
<line x1="522.70" y1="178.20" x2="522.70" y2="180.40" stroke="#444" stroke-width="0.8"/>
<line x1="528.90" y1="178.20" x2="528.90" y2="180.40" stroke="#444" stroke-width="0.8"/>
<line x1="535.10" y1="178.20" x2="535.10" y2="180.40" stroke="#444" stroke-width="0.8"/>
<line x1="541.30" y1="178.20" x2="541.30" y2="180.40" stroke="#444" stroke-width="0.8"/>
<line x1="547.50" y1="178.20" x2="547.50" y2="180.40" stroke="#444" stroke-width="0.8"/>
<line x1="553.70" y1="178.20" x2="553.70" y2="180.40" stroke="#444" stroke-width="0.8"/>
<line x1="559.90" y1="178.20" x2="559.90" y2="180.40" stroke="#444" stroke-width="0.8"/>
<line x1="566.10" y1="178.20" x2="566.10" y2="180.40" stroke="#444" stroke-width="0.8"/>
<text x="0" y="0" font-size="10.2" text-anchor="middle" fill="#111" transform="translate(498.9 190.6) scale(0.88 1)">0</text>
<text x="0" y="0" font-size="10.2" text-anchor="middle" fill="#111" transform="translate(512.3 190.6) scale(0.88 1)">10</text>
<text x="0" y="0" font-size="10.2" text-anchor="middle" fill="#111" transform="translate(524.8 190.6) scale(0.88 1)">20</text>
<text x="0" y="0" font-size="10.2" text-anchor="middle" fill="#111" transform="translate(536.6 190.6) scale(0.88 1)">30</text>
<text x="0" y="0" font-size="10.2" text-anchor="middle" fill="#111" transform="translate(549.1 190.6) scale(0.88 1)">40</text>
<text x="0" y="0" font-size="10.2" text-anchor="middle" fill="#111" transform="translate(561.6 190.6) scale(0.88 1)">50</text>
<text x="535.9" y="202.2" font-size="9.5" text-anchor="middle" fill="#111">Time (Minutes)</text>
<text x="478" y="105" font-size="9.9" text-anchor="middle" fill="#111" transform="rotate(-90 478 105)">Threshold (cm/s)</text>
<path d="M510.4,99.1 L526.5,103.5 L543.5,123.5 L559.7,132.1" fill="none" stroke="#d6d6d6" stroke-width="0.5" stroke-opacity="1.0"/>
<path d="M510.4,111.5 L526.5,106.3 L543.5,98.6 L559.7,137.0" fill="none" stroke="#d6d6d6" stroke-width="0.5" stroke-opacity="1.0"/>
<path d="M510.4,139.3 L526.5,116.4 L543.5,52.5 L559.7,119.0" fill="none" stroke="#d6d6d6" stroke-width="0.5" stroke-opacity="1.0"/>
<path d="M510.4,48.5 L526.5,78.3 L543.5,50.4 L559.7,116.6" fill="none" stroke="#d6d6d6" stroke-width="0.5" stroke-opacity="1.0"/>
<path d="M510.4,98.0 L526.5,113.6 L543.5,45.0 L559.7,101.3" fill="none" stroke="#d6d6d6" stroke-width="0.5" stroke-opacity="1.0"/>
<path d="M510.4,122.2 L526.5,129.5 L543.5,85.7 L559.7,51.8" fill="none" stroke="#d6d6d6" stroke-width="0.5" stroke-opacity="1.0"/>
<path d="M510.4,53.3 L526.5,55.8 L543.5,131.5 L559.7,59.6" fill="none" stroke="#d6d6d6" stroke-width="0.5" stroke-opacity="1.0"/>
<path d="M510.4,101.8 L526.5,134.0 L543.5,45.8 L559.7,115.7" fill="none" stroke="#d6d6d6" stroke-width="0.5" stroke-opacity="1.0"/>
<path d="M510.4,128.2 L526.5,112.3 L543.5,74.7 L559.7,104.8" fill="none" stroke="#d6d6d6" stroke-width="0.5" stroke-opacity="1.0"/>
<path d="M510.4,61.2 L526.5,117.0 L543.5,104.0 L559.7,157.2" fill="none" stroke="#d6d6d6" stroke-width="0.5" stroke-opacity="1.0"/>
<path d="M510.4,59.3 L526.5,91.2 L543.5,63.2 L559.7,127.1" fill="none" stroke="#d6d6d6" stroke-width="0.5" stroke-opacity="1.0"/>
<path d="M510.4,107.6 L526.5,138.2 L543.5,121.3 L559.7,101.5" fill="none" stroke="#d6d6d6" stroke-width="0.5" stroke-opacity="1.0"/>
<path d="M510.4,140.7 L526.5,123.7 L543.5,76.8 L559.7,103.7" fill="none" stroke="#d6d6d6" stroke-width="0.5" stroke-opacity="1.0"/>
<path d="M510.4,54.3 L526.5,121.9 L543.5,79.3 L559.7,116.3" fill="none" stroke="#d6d6d6" stroke-width="0.5" stroke-opacity="1.0"/>
<path d="M512.37,47.70 C512.39,49.08 512.44,53.27 512.48,56.00 C512.51,58.73 512.53,60.93 512.58,64.10 C512.63,67.27 512.75,72.18 512.79,75.00 C512.82,77.82 512.94,78.78 512.79,81.00 C512.63,83.22 511.92,86.30 511.85,88.30 C511.78,90.30 512.13,91.40 512.37,93.00 C512.61,94.60 512.98,96.40 513.31,97.90 C513.64,99.40 513.95,100.38 514.35,102.00 C514.75,103.62 515.25,105.93 515.70,107.60 C516.15,109.27 516.67,110.40 517.05,112.00 C517.43,113.60 517.85,115.37 517.99,117.20 C518.13,119.03 517.99,120.98 517.88,123.00 C517.78,125.02 517.59,127.30 517.36,129.30 C517.14,131.30 516.88,132.97 516.53,135.00 C516.19,137.03 515.49,140.42 515.28,141.50 L505.52,141.50 C505.31,140.42 504.61,137.03 504.27,135.00 C503.92,132.97 503.66,131.30 503.44,129.30 C503.21,127.30 503.02,125.02 502.92,123.00 C502.81,120.98 502.67,119.03 502.81,117.20 C502.95,115.37 503.37,113.60 503.75,112.00 C504.13,110.40 504.65,109.27 505.10,107.60 C505.55,105.93 506.05,103.62 506.45,102.00 C506.85,100.38 507.16,99.40 507.49,97.90 C507.82,96.40 508.19,94.60 508.43,93.00 C508.67,91.40 509.02,90.30 508.95,88.30 C508.88,86.30 508.17,83.22 508.01,81.00 C507.86,78.78 507.98,77.82 508.01,75.00 C508.05,72.18 508.17,67.27 508.22,64.10 C508.27,60.93 508.29,58.73 508.32,56.00 C508.36,53.27 508.41,49.08 508.43,47.70 Z" fill="#b22a2a" stroke="#333" stroke-width="0.6" fill-opacity="1"/>
<path d="M527.85,55.00 C527.87,56.17 527.90,59.67 527.95,62.00 C528.00,64.33 528.00,65.83 528.16,69.00 C528.32,72.17 528.56,77.78 528.89,81.00 C529.22,84.22 529.75,86.30 530.14,88.30 C530.52,90.30 530.85,91.40 531.18,93.00 C531.51,94.60 531.77,96.07 532.11,97.90 C532.46,99.73 533.00,101.98 533.26,104.00 C533.52,106.02 533.67,108.00 533.67,110.00 C533.67,112.00 533.52,114.00 533.26,116.00 C533.00,118.00 532.53,120.17 532.11,122.00 C531.70,123.83 531.18,125.38 530.76,127.00 C530.34,128.62 529.96,129.70 529.62,131.70 C529.27,133.70 528.84,137.78 528.68,139.00 L524.32,139.00 C524.16,137.78 523.73,133.70 523.38,131.70 C523.04,129.70 522.66,128.62 522.24,127.00 C521.82,125.38 521.30,123.83 520.89,122.00 C520.47,120.17 520.00,118.00 519.74,116.00 C519.48,114.00 519.33,112.00 519.33,110.00 C519.33,108.00 519.48,106.02 519.74,104.00 C520.00,101.98 520.54,99.73 520.89,97.90 C521.23,96.07 521.49,94.60 521.82,93.00 C522.15,91.40 522.48,90.30 522.86,88.30 C523.25,86.30 523.78,84.22 524.11,81.00 C524.44,77.78 524.68,72.17 524.84,69.00 C525.00,65.83 525.00,64.33 525.05,62.00 C525.10,59.67 525.13,56.17 525.15,55.00 Z" fill="#b22a2a" stroke="#333" stroke-width="0.6" fill-opacity="1"/>
<path d="M545.16,45.00 C545.18,46.50 545.21,51.17 545.26,54.00 C545.32,56.83 545.32,58.37 545.47,62.00 C545.63,65.63 545.92,71.67 546.20,75.80 C546.48,79.93 546.79,84.10 547.14,86.80 C547.48,89.50 547.92,90.15 548.28,92.00 C548.64,93.85 549.03,95.90 549.32,97.90 C549.61,99.90 549.87,101.72 550.05,104.00 C550.22,106.28 550.36,109.43 550.36,111.60 C550.36,113.77 550.22,115.15 550.05,117.00 C549.87,118.85 549.49,120.87 549.32,122.70 C549.15,124.53 549.09,126.40 549.01,128.00 C548.92,129.60 548.83,131.58 548.80,132.30 L538.20,132.30 C538.17,131.58 538.08,129.60 537.99,128.00 C537.91,126.40 537.85,124.53 537.68,122.70 C537.51,120.87 537.13,118.85 536.95,117.00 C536.78,115.15 536.64,113.77 536.64,111.60 C536.64,109.43 536.78,106.28 536.95,104.00 C537.13,101.72 537.39,99.90 537.68,97.90 C537.97,95.90 538.36,93.85 538.72,92.00 C539.08,90.15 539.52,89.50 539.86,86.80 C540.21,84.10 540.52,79.93 540.80,75.80 C541.08,71.67 541.37,65.63 541.53,62.00 C541.68,58.37 541.68,56.83 541.74,54.00 C541.79,51.17 541.82,46.50 541.84,45.00 Z" fill="#b22a2a" stroke="#333" stroke-width="0.6" fill-opacity="1"/>
<path d="M562.09,51.00 C562.09,51.67 562.19,53.50 562.09,55.00 C561.98,56.50 561.65,57.90 561.46,60.00 C561.27,62.10 560.91,65.27 560.94,67.60 C560.98,69.93 561.38,71.72 561.67,74.00 C561.97,76.28 562.37,78.97 562.71,81.30 C563.06,83.63 563.41,85.70 563.75,88.00 C564.10,90.30 564.50,92.77 564.79,95.10 C565.09,97.43 565.35,99.70 565.52,102.00 C565.69,104.30 565.87,106.57 565.83,108.90 C565.80,111.23 565.55,113.70 565.31,116.00 C565.07,118.30 564.77,120.37 564.38,122.70 C563.98,125.03 563.34,127.72 562.92,130.00 C562.50,132.28 562.16,133.73 561.88,136.40 C561.60,139.07 561.39,142.40 561.26,146.00 C561.12,149.60 561.08,156.00 561.05,158.00 L558.35,158.00 C558.32,156.00 558.28,149.60 558.14,146.00 C558.01,142.40 557.80,139.07 557.52,136.40 C557.24,133.73 556.90,132.28 556.48,130.00 C556.06,127.72 555.42,125.03 555.02,122.70 C554.63,120.37 554.33,118.30 554.09,116.00 C553.85,113.70 553.60,111.23 553.57,108.90 C553.53,106.57 553.71,104.30 553.88,102.00 C554.05,99.70 554.31,97.43 554.61,95.10 C554.90,92.77 555.30,90.30 555.65,88.00 C555.99,85.70 556.34,83.63 556.69,81.30 C557.03,78.97 557.43,76.28 557.73,74.00 C558.02,71.72 558.42,69.93 558.46,67.60 C558.49,65.27 558.13,62.10 557.94,60.00 C557.75,57.90 557.42,56.50 557.31,55.00 C557.21,53.50 557.31,51.67 557.31,51.00 Z" fill="#b22a2a" stroke="#333" stroke-width="0.6" fill-opacity="1"/>
<path d="M510.4,99.1 L526.5,103.5 L543.5,123.5 L559.7,132.1" fill="none" stroke="#e0e0e0" stroke-width="0.45" stroke-opacity="0.28"/>
<path d="M510.4,111.5 L526.5,106.3 L543.5,98.6 L559.7,137.0" fill="none" stroke="#e0e0e0" stroke-width="0.45" stroke-opacity="0.28"/>
<path d="M510.4,139.3 L526.5,116.4 L543.5,52.5 L559.7,119.0" fill="none" stroke="#e0e0e0" stroke-width="0.45" stroke-opacity="0.28"/>
<path d="M510.4,48.5 L526.5,78.3 L543.5,50.4 L559.7,116.6" fill="none" stroke="#e0e0e0" stroke-width="0.45" stroke-opacity="0.28"/>
<path d="M510.4,98.0 L526.5,113.6 L543.5,45.0 L559.7,101.3" fill="none" stroke="#e0e0e0" stroke-width="0.45" stroke-opacity="0.28"/>
<path d="M510.4,122.2 L526.5,129.5 L543.5,85.7 L559.7,51.8" fill="none" stroke="#e0e0e0" stroke-width="0.45" stroke-opacity="0.28"/>
<path d="M510.4,53.3 L526.5,55.8 L543.5,131.5 L559.7,59.6" fill="none" stroke="#e0e0e0" stroke-width="0.45" stroke-opacity="0.28"/>
<path d="M510.4,101.8 L526.5,134.0 L543.5,45.8 L559.7,115.7" fill="none" stroke="#e0e0e0" stroke-width="0.45" stroke-opacity="0.28"/>
<path d="M510.4,128.2 L526.5,112.3 L543.5,74.7 L559.7,104.8" fill="none" stroke="#e0e0e0" stroke-width="0.45" stroke-opacity="0.28"/>
<path d="M510.4,61.2 L526.5,117.0 L543.5,104.0 L559.7,157.2" fill="none" stroke="#e0e0e0" stroke-width="0.45" stroke-opacity="0.28"/>
<path d="M510.4,59.3 L526.5,91.2 L543.5,63.2 L559.7,127.1" fill="none" stroke="#e0e0e0" stroke-width="0.45" stroke-opacity="0.28"/>
<path d="M510.4,107.6 L526.5,138.2 L543.5,121.3 L559.7,101.5" fill="none" stroke="#e0e0e0" stroke-width="0.45" stroke-opacity="0.28"/>
<path d="M510.4,140.7 L526.5,123.7 L543.5,76.8 L559.7,103.7" fill="none" stroke="#e0e0e0" stroke-width="0.45" stroke-opacity="0.28"/>
<path d="M510.4,54.3 L526.5,121.9 L543.5,79.3 L559.7,116.3" fill="none" stroke="#e0e0e0" stroke-width="0.45" stroke-opacity="0.28"/>
<circle cx="510.4" cy="99.1" r="0.9" fill="#e0c0c0" fill-opacity="0.6"/>
<circle cx="510.4" cy="111.5" r="0.9" fill="#e0c0c0" fill-opacity="0.6"/>
<circle cx="510.4" cy="139.3" r="0.9" fill="#e0c0c0" fill-opacity="0.6"/>
<circle cx="510.4" cy="48.5" r="0.9" fill="#e0c0c0" fill-opacity="0.6"/>
<circle cx="510.4" cy="98.0" r="0.9" fill="#e0c0c0" fill-opacity="0.6"/>
<circle cx="510.4" cy="122.2" r="0.9" fill="#e0c0c0" fill-opacity="0.6"/>
<circle cx="510.4" cy="53.3" r="0.9" fill="#e0c0c0" fill-opacity="0.6"/>
<circle cx="510.4" cy="101.8" r="0.9" fill="#e0c0c0" fill-opacity="0.6"/>
<circle cx="510.4" cy="128.2" r="0.9" fill="#e0c0c0" fill-opacity="0.6"/>
<circle cx="510.4" cy="61.2" r="0.9" fill="#e0c0c0" fill-opacity="0.6"/>
<circle cx="510.4" cy="59.3" r="0.9" fill="#e0c0c0" fill-opacity="0.6"/>
<circle cx="510.4" cy="107.6" r="0.9" fill="#e0c0c0" fill-opacity="0.6"/>
<circle cx="510.4" cy="140.7" r="0.9" fill="#e0c0c0" fill-opacity="0.6"/>
<circle cx="510.4" cy="54.3" r="0.9" fill="#e0c0c0" fill-opacity="0.6"/>
<circle cx="526.5" cy="103.5" r="0.9" fill="#e0c0c0" fill-opacity="0.6"/>
<circle cx="526.5" cy="106.3" r="0.9" fill="#e0c0c0" fill-opacity="0.6"/>
<circle cx="526.5" cy="116.4" r="0.9" fill="#e0c0c0" fill-opacity="0.6"/>
<circle cx="526.5" cy="78.3" r="0.9" fill="#e0c0c0" fill-opacity="0.6"/>
<circle cx="526.5" cy="113.6" r="0.9" fill="#e0c0c0" fill-opacity="0.6"/>
<circle cx="526.5" cy="129.5" r="0.9" fill="#e0c0c0" fill-opacity="0.6"/>
<circle cx="526.5" cy="55.8" r="0.9" fill="#e0c0c0" fill-opacity="0.6"/>
<circle cx="526.5" cy="134.0" r="0.9" fill="#e0c0c0" fill-opacity="0.6"/>
<circle cx="526.5" cy="112.3" r="0.9" fill="#e0c0c0" fill-opacity="0.6"/>
<circle cx="526.5" cy="117.0" r="0.9" fill="#e0c0c0" fill-opacity="0.6"/>
<circle cx="526.5" cy="91.2" r="0.9" fill="#e0c0c0" fill-opacity="0.6"/>
<circle cx="526.5" cy="138.2" r="0.9" fill="#e0c0c0" fill-opacity="0.6"/>
<circle cx="526.5" cy="123.7" r="0.9" fill="#e0c0c0" fill-opacity="0.6"/>
<circle cx="526.5" cy="121.9" r="0.9" fill="#e0c0c0" fill-opacity="0.6"/>
<circle cx="543.5" cy="123.5" r="0.9" fill="#e0c0c0" fill-opacity="0.6"/>
<circle cx="543.5" cy="98.6" r="0.9" fill="#e0c0c0" fill-opacity="0.6"/>
<circle cx="543.5" cy="52.5" r="0.9" fill="#e0c0c0" fill-opacity="0.6"/>
<circle cx="543.5" cy="50.4" r="0.9" fill="#e0c0c0" fill-opacity="0.6"/>
<circle cx="543.5" cy="45.0" r="0.9" fill="#e0c0c0" fill-opacity="0.6"/>
<circle cx="543.5" cy="85.7" r="0.9" fill="#e0c0c0" fill-opacity="0.6"/>
<circle cx="543.5" cy="131.5" r="0.9" fill="#e0c0c0" fill-opacity="0.6"/>
<circle cx="543.5" cy="45.8" r="0.9" fill="#e0c0c0" fill-opacity="0.6"/>
<circle cx="543.5" cy="74.7" r="0.9" fill="#e0c0c0" fill-opacity="0.6"/>
<circle cx="543.5" cy="104.0" r="0.9" fill="#e0c0c0" fill-opacity="0.6"/>
<circle cx="543.5" cy="63.2" r="0.9" fill="#e0c0c0" fill-opacity="0.6"/>
<circle cx="543.5" cy="121.3" r="0.9" fill="#e0c0c0" fill-opacity="0.6"/>
<circle cx="543.5" cy="76.8" r="0.9" fill="#e0c0c0" fill-opacity="0.6"/>
<circle cx="543.5" cy="79.3" r="0.9" fill="#e0c0c0" fill-opacity="0.6"/>
<circle cx="559.7" cy="132.1" r="0.9" fill="#e0c0c0" fill-opacity="0.6"/>
<circle cx="559.7" cy="137.0" r="0.9" fill="#e0c0c0" fill-opacity="0.6"/>
<circle cx="559.7" cy="119.0" r="0.9" fill="#e0c0c0" fill-opacity="0.6"/>
<circle cx="559.7" cy="116.6" r="0.9" fill="#e0c0c0" fill-opacity="0.6"/>
<circle cx="559.7" cy="101.3" r="0.9" fill="#e0c0c0" fill-opacity="0.6"/>
<circle cx="559.7" cy="51.8" r="0.9" fill="#e0c0c0" fill-opacity="0.6"/>
<circle cx="559.7" cy="59.6" r="0.9" fill="#e0c0c0" fill-opacity="0.6"/>
<circle cx="559.7" cy="115.7" r="0.9" fill="#e0c0c0" fill-opacity="0.6"/>
<circle cx="559.7" cy="104.8" r="0.9" fill="#e0c0c0" fill-opacity="0.6"/>
<circle cx="559.7" cy="157.2" r="0.9" fill="#e0c0c0" fill-opacity="0.6"/>
<circle cx="559.7" cy="127.1" r="0.9" fill="#e0c0c0" fill-opacity="0.6"/>
<circle cx="559.7" cy="101.5" r="0.9" fill="#e0c0c0" fill-opacity="0.6"/>
<circle cx="559.7" cy="103.7" r="0.9" fill="#e0c0c0" fill-opacity="0.6"/>
<circle cx="559.7" cy="116.3" r="0.9" fill="#e0c0c0" fill-opacity="0.6"/>
<line x1="510.40" y1="98.00" x2="510.40" y2="121.00" stroke="#333" stroke-width="0.5"/>
<line x1="507.80" y1="98.00" x2="513.00" y2="98.00" stroke="#333" stroke-width="0.5"/>
<line x1="507.80" y1="121.00" x2="513.00" y2="121.00" stroke="#333" stroke-width="0.5"/>
<ellipse cx="510.4" cy="108.8" rx="1.25" ry="1.8" fill="#000"/>
<line x1="526.50" y1="94.00" x2="526.50" y2="117.00" stroke="#333" stroke-width="0.5"/>
<line x1="523.90" y1="94.00" x2="529.10" y2="94.00" stroke="#333" stroke-width="0.5"/>
<line x1="523.90" y1="117.00" x2="529.10" y2="117.00" stroke="#333" stroke-width="0.5"/>
<ellipse cx="526.5" cy="104.7" rx="1.25" ry="1.8" fill="#000"/>
<line x1="543.50" y1="92.00" x2="543.50" y2="114.00" stroke="#333" stroke-width="0.5"/>
<line x1="540.90" y1="92.00" x2="546.10" y2="92.00" stroke="#333" stroke-width="0.5"/>
<line x1="540.90" y1="114.00" x2="546.10" y2="114.00" stroke="#333" stroke-width="0.5"/>
<ellipse cx="543.5" cy="102.8" rx="1.25" ry="1.8" fill="#000"/>
<line x1="559.70" y1="97.00" x2="559.70" y2="120.00" stroke="#333" stroke-width="0.5"/>
<line x1="557.10" y1="97.00" x2="562.30" y2="97.00" stroke="#333" stroke-width="0.5"/>
<line x1="557.10" y1="120.00" x2="562.30" y2="120.00" stroke="#333" stroke-width="0.5"/>
<ellipse cx="559.7" cy="107.5" rx="1.25" ry="1.8" fill="#000"/>
<line x1="608.50" y1="39.00" x2="608.50" y2="178.20" stroke="#444" stroke-width="1"/>
<line x1="606.30" y1="169.40" x2="608.70" y2="169.40" stroke="#444" stroke-width="0.7"/>
<line x1="606.30" y1="159.56" x2="608.70" y2="159.56" stroke="#444" stroke-width="0.7"/>
<line x1="606.30" y1="149.72" x2="608.70" y2="149.72" stroke="#444" stroke-width="0.7"/>
<line x1="606.30" y1="139.88" x2="608.70" y2="139.88" stroke="#444" stroke-width="0.7"/>
<line x1="606.30" y1="130.04" x2="608.70" y2="130.04" stroke="#444" stroke-width="0.7"/>
<line x1="606.30" y1="120.20" x2="608.70" y2="120.20" stroke="#444" stroke-width="0.7"/>
<line x1="606.30" y1="110.36" x2="608.70" y2="110.36" stroke="#444" stroke-width="0.7"/>
<line x1="606.30" y1="100.52" x2="608.70" y2="100.52" stroke="#444" stroke-width="0.7"/>
<line x1="606.30" y1="90.68" x2="608.70" y2="90.68" stroke="#444" stroke-width="0.7"/>
<line x1="606.30" y1="80.84" x2="608.70" y2="80.84" stroke="#444" stroke-width="0.7"/>
<line x1="606.30" y1="71.00" x2="608.70" y2="71.00" stroke="#444" stroke-width="0.7"/>
<line x1="606.30" y1="61.16" x2="608.70" y2="61.16" stroke="#444" stroke-width="0.7"/>
<line x1="606.30" y1="51.32" x2="608.70" y2="51.32" stroke="#444" stroke-width="0.7"/>
<text x="602.6" y="54.620000000000005" font-size="9.8" text-anchor="end" fill="#111">140</text>
<text x="602.6" y="74.3" font-size="9.8" text-anchor="end" fill="#111">100</text>
<text x="602.6" y="93.98" font-size="9.8" text-anchor="end" fill="#111">60</text>
<text x="602.6" y="113.66" font-size="9.8" text-anchor="end" fill="#111">20</text>
<text x="602.6" y="133.34" font-size="9.8" text-anchor="end" fill="#111">−20</text>
<text x="602.6" y="153.02" font-size="9.8" text-anchor="end" fill="#111">−60</text>
<text x="602.6" y="172.70000000000002" font-size="9.8" text-anchor="end" fill="#111">−100</text>
<line x1="608.90" y1="178.50" x2="679.87" y2="178.50" stroke="#444" stroke-width="1"/>
<line x1="608.90" y1="178.20" x2="608.90" y2="180.40" stroke="#444" stroke-width="0.8"/>
<line x1="615.17" y1="178.20" x2="615.17" y2="180.40" stroke="#444" stroke-width="0.8"/>
<line x1="621.44" y1="178.20" x2="621.44" y2="180.40" stroke="#444" stroke-width="0.8"/>
<line x1="627.71" y1="178.20" x2="627.71" y2="180.40" stroke="#444" stroke-width="0.8"/>
<line x1="633.98" y1="178.20" x2="633.98" y2="180.40" stroke="#444" stroke-width="0.8"/>
<line x1="640.25" y1="178.20" x2="640.25" y2="180.40" stroke="#444" stroke-width="0.8"/>
<line x1="646.52" y1="178.20" x2="646.52" y2="180.40" stroke="#444" stroke-width="0.8"/>
<line x1="652.79" y1="178.20" x2="652.79" y2="180.40" stroke="#444" stroke-width="0.8"/>
<line x1="659.06" y1="178.20" x2="659.06" y2="180.40" stroke="#444" stroke-width="0.8"/>
<line x1="665.33" y1="178.20" x2="665.33" y2="180.40" stroke="#444" stroke-width="0.8"/>
<line x1="671.60" y1="178.20" x2="671.60" y2="180.40" stroke="#444" stroke-width="0.8"/>
<line x1="677.87" y1="178.20" x2="677.87" y2="180.40" stroke="#444" stroke-width="0.8"/>
<text x="0" y="0" font-size="10.2" text-anchor="middle" fill="#111" transform="translate(610.5 190.6) scale(0.88 1)">0</text>
<text x="0" y="0" font-size="10.2" text-anchor="middle" fill="#111" transform="translate(623.8 190.6) scale(0.88 1)">10</text>
<text x="0" y="0" font-size="10.2" text-anchor="middle" fill="#111" transform="translate(636.2 190.6) scale(0.88 1)">20</text>
<text x="0" y="0" font-size="10.2" text-anchor="middle" fill="#111" transform="translate(648.6 190.6) scale(0.88 1)">30</text>
<text x="0" y="0" font-size="10.2" text-anchor="middle" fill="#111" transform="translate(660.5 190.6) scale(0.88 1)">40</text>
<text x="0" y="0" font-size="10.2" text-anchor="middle" fill="#111" transform="translate(672.6 190.6) scale(0.88 1)">50</text>
<text x="644.5" y="202.2" font-size="9.5" text-anchor="middle" fill="#111">Time (Minutes)</text>
<text x="585.5" y="111.6" font-size="9.2" text-anchor="middle" fill="#111" transform="rotate(-90 585.5 111.6)">Percent Change (%)</text>
<path d="M622.3,101.9 L637.4,70.0 L653.3,100.1 L669.0,129.3" fill="none" stroke="#d2d2d2" stroke-width="0.55" stroke-opacity="1.0"/>
<path d="M622.3,104.9 L637.4,81.7 L653.3,113.5 L669.0,100.6" fill="none" stroke="#d2d2d2" stroke-width="0.55" stroke-opacity="1.0"/>
<path d="M622.3,116.2 L637.4,108.6 L653.3,110.8 L669.0,117.1" fill="none" stroke="#d2d2d2" stroke-width="0.55" stroke-opacity="1.0"/>
<path d="M622.3,115.9 L637.4,123.8 L653.3,104.3 L669.0,122.1" fill="none" stroke="#d2d2d2" stroke-width="0.55" stroke-opacity="1.0"/>
<path d="M622.3,121.6 L637.4,116.4 L653.3,131.8 L669.0,140.8" fill="none" stroke="#d2d2d2" stroke-width="0.55" stroke-opacity="1.0"/>
<path d="M622.3,104.0 L637.4,114.6 L653.3,101.1 L669.0,110.3" fill="none" stroke="#d2d2d2" stroke-width="0.55" stroke-opacity="1.0"/>
<path d="M622.3,113.8 L637.4,128.8 L653.3,127.1 L669.0,137.2" fill="none" stroke="#d2d2d2" stroke-width="0.55" stroke-opacity="1.0"/>
<path d="M622.3,99.8 L637.4,108.5 L653.3,68.6 L669.0,130.1" fill="none" stroke="#d2d2d2" stroke-width="0.55" stroke-opacity="1.0"/>
<path d="M622.3,101.8 L637.4,104.5 L653.3,58.8 L669.0,125.8" fill="none" stroke="#d2d2d2" stroke-width="0.55" stroke-opacity="1.0"/>
<path d="M622.3,113.3 L637.4,65.8 L653.3,91.6 L669.0,133.3" fill="none" stroke="#d2d2d2" stroke-width="0.55" stroke-opacity="1.0"/>
<path d="M622.3,120.3 L637.4,119.5 L653.3,94.3 L669.0,143.5" fill="none" stroke="#d2d2d2" stroke-width="0.55" stroke-opacity="1.0"/>
<path d="M622.3,115.2 L637.4,132.0 L653.3,71.3 L669.0,107.6" fill="none" stroke="#d2d2d2" stroke-width="0.55" stroke-opacity="1.0"/>
<path d="M622.3,109.2 L637.4,132.1 L653.3,113.5 L669.0,100.9" fill="none" stroke="#d2d2d2" stroke-width="0.55" stroke-opacity="1.0"/>
<path d="M622.3,130.9 L637.4,125.0 L653.3,132.5 L669.0,129.5" fill="none" stroke="#d2d2d2" stroke-width="0.55" stroke-opacity="1.0"/>
<path d="M622.3,99.6 L637.4,120.4 L653.3,59.2 L669.0,126.7" fill="none" stroke="#d2d2d2" stroke-width="0.55" stroke-opacity="1.0"/>
<path d="M622.3,105.1 L637.4,105.8 L653.3,110.0 L669.0,114.1" fill="none" stroke="#d2d2d2" stroke-width="0.55" stroke-opacity="1.0"/>
<line x1="608.70" y1="120.20" x2="685.00" y2="120.20" stroke="#444" stroke-width="0.8" stroke-dasharray="1.5,1.5"/>
<path d="M624.80,98.80 C625.02,99.00 625.78,99.50 626.10,100.00 C626.42,100.50 626.60,100.47 626.70,101.80 C626.80,103.13 626.85,105.52 626.70,108.00 C626.55,110.48 626.23,113.72 625.80,116.70 C625.37,119.68 624.43,123.40 624.10,125.90 C623.77,128.40 623.85,130.73 623.80,131.70 L620.80,131.70 C620.75,130.73 620.83,128.40 620.50,125.90 C620.17,123.40 619.23,119.68 618.80,116.70 C618.37,113.72 618.05,110.48 617.90,108.00 C617.75,105.52 617.80,103.13 617.90,101.80 C618.00,100.47 618.18,100.50 618.50,100.00 C618.82,99.50 619.58,99.00 619.80,98.80 Z" fill="#fff" stroke="#333" stroke-width="0.7" fill-opacity="0.8"/>
<path d="M638.50,65.00 C638.48,66.67 638.42,70.83 638.40,75.00 C638.38,79.17 638.35,85.33 638.40,90.00 C638.45,94.67 638.12,100.00 638.70,103.00 C639.28,106.00 640.97,106.28 641.90,108.00 C642.83,109.72 644.30,111.63 644.30,113.30 C644.30,114.97 642.67,116.47 641.90,118.00 C641.13,119.53 640.02,121.00 639.70,122.50 C639.38,124.00 639.98,125.28 640.00,127.00 C640.02,128.72 639.83,131.83 639.80,132.80 L635.00,132.80 C634.97,131.83 634.78,128.72 634.80,127.00 C634.82,125.28 635.42,124.00 635.10,122.50 C634.78,121.00 633.67,119.53 632.90,118.00 C632.13,116.47 630.50,114.97 630.50,113.30 C630.50,111.63 631.97,109.72 632.90,108.00 C633.83,106.28 635.52,106.00 636.10,103.00 C636.68,100.00 636.35,94.67 636.40,90.00 C636.45,85.33 636.42,79.17 636.40,75.00 C636.38,70.83 636.32,66.67 636.30,65.00 Z" fill="#fff" stroke="#333" stroke-width="0.7" fill-opacity="0.8"/>
<path d="M654.50,58.00 C654.52,60.00 654.50,65.58 654.60,70.00 C654.70,74.42 654.88,80.83 655.10,84.50 C655.32,88.17 655.65,90.08 655.90,92.00 C656.15,93.92 656.43,93.00 656.60,96.00 C656.77,99.00 656.85,104.67 656.90,110.00 C656.95,115.33 657.17,124.12 656.90,128.00 C656.63,131.88 655.57,132.42 655.30,133.30 L651.30,133.30 C651.03,132.42 649.97,131.88 649.70,128.00 C649.43,124.12 649.65,115.33 649.70,110.00 C649.75,104.67 649.83,99.00 650.00,96.00 C650.17,93.00 650.45,93.92 650.70,92.00 C650.95,90.08 651.28,88.17 651.50,84.50 C651.72,80.83 651.90,74.42 652.00,70.00 C652.10,65.58 652.08,60.00 652.10,58.00 Z" fill="#fff" stroke="#333" stroke-width="0.7" fill-opacity="0.8"/>
<path d="M671.00,100.10 C671.25,100.33 672.08,100.45 672.50,101.50 C672.92,102.55 673.45,104.15 673.50,106.40 C673.55,108.65 673.13,111.75 672.80,115.00 C672.47,118.25 671.87,122.57 671.50,125.90 C671.13,129.23 670.82,131.93 670.60,135.00 C670.38,138.07 670.27,142.75 670.20,144.30 L667.80,144.30 C667.73,142.75 667.62,138.07 667.40,135.00 C667.18,131.93 666.87,129.23 666.50,125.90 C666.13,122.57 665.53,118.25 665.20,115.00 C664.87,111.75 664.45,108.65 664.50,106.40 C664.55,104.15 665.08,102.55 665.50,101.50 C665.92,100.45 666.75,100.33 667.00,100.10 Z" fill="#fff" stroke="#333" stroke-width="0.7" fill-opacity="0.8"/>
<path d="M622.3,101.9 L637.4,70.0 L653.3,100.1 L669.0,129.3" fill="none" stroke="#d0d0d0" stroke-width="0.45" stroke-opacity="0.5"/>
<path d="M622.3,104.9 L637.4,81.7 L653.3,113.5 L669.0,100.6" fill="none" stroke="#d0d0d0" stroke-width="0.45" stroke-opacity="0.5"/>
<path d="M622.3,116.2 L637.4,108.6 L653.3,110.8 L669.0,117.1" fill="none" stroke="#d0d0d0" stroke-width="0.45" stroke-opacity="0.5"/>
<path d="M622.3,115.9 L637.4,123.8 L653.3,104.3 L669.0,122.1" fill="none" stroke="#d0d0d0" stroke-width="0.45" stroke-opacity="0.5"/>
<path d="M622.3,121.6 L637.4,116.4 L653.3,131.8 L669.0,140.8" fill="none" stroke="#d0d0d0" stroke-width="0.45" stroke-opacity="0.5"/>
<path d="M622.3,104.0 L637.4,114.6 L653.3,101.1 L669.0,110.3" fill="none" stroke="#d0d0d0" stroke-width="0.45" stroke-opacity="0.5"/>
<path d="M622.3,113.8 L637.4,128.8 L653.3,127.1 L669.0,137.2" fill="none" stroke="#d0d0d0" stroke-width="0.45" stroke-opacity="0.5"/>
<path d="M622.3,99.8 L637.4,108.5 L653.3,68.6 L669.0,130.1" fill="none" stroke="#d0d0d0" stroke-width="0.45" stroke-opacity="0.5"/>
<path d="M622.3,101.8 L637.4,104.5 L653.3,58.8 L669.0,125.8" fill="none" stroke="#d0d0d0" stroke-width="0.45" stroke-opacity="0.5"/>
<path d="M622.3,113.3 L637.4,65.8 L653.3,91.6 L669.0,133.3" fill="none" stroke="#d0d0d0" stroke-width="0.45" stroke-opacity="0.5"/>
<path d="M622.3,120.3 L637.4,119.5 L653.3,94.3 L669.0,143.5" fill="none" stroke="#d0d0d0" stroke-width="0.45" stroke-opacity="0.5"/>
<path d="M622.3,115.2 L637.4,132.0 L653.3,71.3 L669.0,107.6" fill="none" stroke="#d0d0d0" stroke-width="0.45" stroke-opacity="0.5"/>
<path d="M622.3,109.2 L637.4,132.1 L653.3,113.5 L669.0,100.9" fill="none" stroke="#d0d0d0" stroke-width="0.45" stroke-opacity="0.5"/>
<path d="M622.3,130.9 L637.4,125.0 L653.3,132.5 L669.0,129.5" fill="none" stroke="#d0d0d0" stroke-width="0.45" stroke-opacity="0.5"/>
<path d="M622.3,99.6 L637.4,120.4 L653.3,59.2 L669.0,126.7" fill="none" stroke="#d0d0d0" stroke-width="0.45" stroke-opacity="0.5"/>
<path d="M622.3,105.1 L637.4,105.8 L653.3,110.0 L669.0,114.1" fill="none" stroke="#d0d0d0" stroke-width="0.45" stroke-opacity="0.5"/>
<rect x="651.2" y="92" width="4.2" height="38" fill="#e8e8e8" stroke="#bbb" stroke-width="0.4"/>
<circle cx="622.3" cy="101.9" r="1.0" fill="#bdbdbd" fill-opacity="0.8"/>
<circle cx="622.3" cy="104.9" r="1.0" fill="#bdbdbd" fill-opacity="0.8"/>
<circle cx="622.3" cy="116.2" r="1.0" fill="#bdbdbd" fill-opacity="0.8"/>
<circle cx="622.3" cy="115.9" r="1.0" fill="#bdbdbd" fill-opacity="0.8"/>
<circle cx="622.3" cy="121.6" r="1.0" fill="#bdbdbd" fill-opacity="0.8"/>
<circle cx="622.3" cy="104.0" r="1.0" fill="#bdbdbd" fill-opacity="0.8"/>
<circle cx="622.3" cy="113.8" r="1.0" fill="#bdbdbd" fill-opacity="0.8"/>
<circle cx="622.3" cy="99.8" r="1.0" fill="#bdbdbd" fill-opacity="0.8"/>
<circle cx="622.3" cy="101.8" r="1.0" fill="#bdbdbd" fill-opacity="0.8"/>
<circle cx="622.3" cy="113.3" r="1.0" fill="#bdbdbd" fill-opacity="0.8"/>
<circle cx="622.3" cy="120.3" r="1.0" fill="#bdbdbd" fill-opacity="0.8"/>
<circle cx="622.3" cy="115.2" r="1.0" fill="#bdbdbd" fill-opacity="0.8"/>
<circle cx="622.3" cy="109.2" r="1.0" fill="#bdbdbd" fill-opacity="0.8"/>
<circle cx="622.3" cy="130.9" r="1.0" fill="#bdbdbd" fill-opacity="0.8"/>
<circle cx="622.3" cy="99.6" r="1.0" fill="#bdbdbd" fill-opacity="0.8"/>
<circle cx="622.3" cy="105.1" r="1.0" fill="#bdbdbd" fill-opacity="0.8"/>
<circle cx="637.4" cy="70.0" r="1.0" fill="#bdbdbd" fill-opacity="0.8"/>
<circle cx="637.4" cy="81.7" r="1.0" fill="#bdbdbd" fill-opacity="0.8"/>
<circle cx="637.4" cy="108.6" r="1.0" fill="#bdbdbd" fill-opacity="0.8"/>
<circle cx="637.4" cy="123.8" r="1.0" fill="#bdbdbd" fill-opacity="0.8"/>
<circle cx="637.4" cy="116.4" r="1.0" fill="#bdbdbd" fill-opacity="0.8"/>
<circle cx="637.4" cy="114.6" r="1.0" fill="#bdbdbd" fill-opacity="0.8"/>
<circle cx="637.4" cy="128.8" r="1.0" fill="#bdbdbd" fill-opacity="0.8"/>
<circle cx="637.4" cy="108.5" r="1.0" fill="#bdbdbd" fill-opacity="0.8"/>
<circle cx="637.4" cy="104.5" r="1.0" fill="#bdbdbd" fill-opacity="0.8"/>
<circle cx="637.4" cy="65.8" r="1.0" fill="#bdbdbd" fill-opacity="0.8"/>
<circle cx="637.4" cy="119.5" r="1.0" fill="#bdbdbd" fill-opacity="0.8"/>
<circle cx="637.4" cy="132.0" r="1.0" fill="#bdbdbd" fill-opacity="0.8"/>
<circle cx="637.4" cy="132.1" r="1.0" fill="#bdbdbd" fill-opacity="0.8"/>
<circle cx="637.4" cy="125.0" r="1.0" fill="#bdbdbd" fill-opacity="0.8"/>
<circle cx="637.4" cy="120.4" r="1.0" fill="#bdbdbd" fill-opacity="0.8"/>
<circle cx="637.4" cy="105.8" r="1.0" fill="#bdbdbd" fill-opacity="0.8"/>
<circle cx="653.3" cy="100.1" r="1.0" fill="#bdbdbd" fill-opacity="0.8"/>
<circle cx="653.3" cy="113.5" r="1.0" fill="#bdbdbd" fill-opacity="0.8"/>
<circle cx="653.3" cy="110.8" r="1.0" fill="#bdbdbd" fill-opacity="0.8"/>
<circle cx="653.3" cy="104.3" r="1.0" fill="#bdbdbd" fill-opacity="0.8"/>
<circle cx="653.3" cy="131.8" r="1.0" fill="#bdbdbd" fill-opacity="0.8"/>
<circle cx="653.3" cy="101.1" r="1.0" fill="#bdbdbd" fill-opacity="0.8"/>
<circle cx="653.3" cy="127.1" r="1.0" fill="#bdbdbd" fill-opacity="0.8"/>
<circle cx="653.3" cy="68.6" r="1.0" fill="#bdbdbd" fill-opacity="0.8"/>
<circle cx="653.3" cy="58.8" r="1.0" fill="#bdbdbd" fill-opacity="0.8"/>
<circle cx="653.3" cy="91.6" r="1.0" fill="#bdbdbd" fill-opacity="0.8"/>
<circle cx="653.3" cy="94.3" r="1.0" fill="#bdbdbd" fill-opacity="0.8"/>
<circle cx="653.3" cy="71.3" r="1.0" fill="#bdbdbd" fill-opacity="0.8"/>
<circle cx="653.3" cy="113.5" r="1.0" fill="#bdbdbd" fill-opacity="0.8"/>
<circle cx="653.3" cy="132.5" r="1.0" fill="#bdbdbd" fill-opacity="0.8"/>
<circle cx="653.3" cy="59.2" r="1.0" fill="#bdbdbd" fill-opacity="0.8"/>
<circle cx="653.3" cy="110.0" r="1.0" fill="#bdbdbd" fill-opacity="0.8"/>
<circle cx="669.0" cy="129.3" r="1.0" fill="#bdbdbd" fill-opacity="0.8"/>
<circle cx="669.0" cy="100.6" r="1.0" fill="#bdbdbd" fill-opacity="0.8"/>
<circle cx="669.0" cy="117.1" r="1.0" fill="#bdbdbd" fill-opacity="0.8"/>
<circle cx="669.0" cy="122.1" r="1.0" fill="#bdbdbd" fill-opacity="0.8"/>
<circle cx="669.0" cy="140.8" r="1.0" fill="#bdbdbd" fill-opacity="0.8"/>
<circle cx="669.0" cy="110.3" r="1.0" fill="#bdbdbd" fill-opacity="0.8"/>
<circle cx="669.0" cy="137.2" r="1.0" fill="#bdbdbd" fill-opacity="0.8"/>
<circle cx="669.0" cy="130.1" r="1.0" fill="#bdbdbd" fill-opacity="0.8"/>
<circle cx="669.0" cy="125.8" r="1.0" fill="#bdbdbd" fill-opacity="0.8"/>
<circle cx="669.0" cy="133.3" r="1.0" fill="#bdbdbd" fill-opacity="0.8"/>
<circle cx="669.0" cy="143.5" r="1.0" fill="#bdbdbd" fill-opacity="0.8"/>
<circle cx="669.0" cy="107.6" r="1.0" fill="#bdbdbd" fill-opacity="0.8"/>
<circle cx="669.0" cy="100.9" r="1.0" fill="#bdbdbd" fill-opacity="0.8"/>
<circle cx="669.0" cy="129.5" r="1.0" fill="#bdbdbd" fill-opacity="0.8"/>
<circle cx="669.0" cy="126.7" r="1.0" fill="#bdbdbd" fill-opacity="0.8"/>
<circle cx="669.0" cy="114.1" r="1.0" fill="#bdbdbd" fill-opacity="0.8"/>
<line x1="622.30" y1="104.00" x2="622.30" y2="117.00" stroke="#777" stroke-width="0.5"/>
<line x1="620.50" y1="104.00" x2="624.10" y2="104.00" stroke="#777" stroke-width="0.5"/>
<line x1="620.50" y1="117.00" x2="624.10" y2="117.00" stroke="#777" stroke-width="0.5"/>
<ellipse cx="622.3" cy="110.3" rx="1.6" ry="1.6" fill="#000"/>
<line x1="637.40" y1="109.00" x2="637.40" y2="118.00" stroke="#777" stroke-width="0.5"/>
<line x1="635.60" y1="109.00" x2="639.20" y2="109.00" stroke="#777" stroke-width="0.5"/>
<line x1="635.60" y1="118.00" x2="639.20" y2="118.00" stroke="#777" stroke-width="0.5"/>
<ellipse cx="637.4" cy="113.3" rx="1.6" ry="1.6" fill="#000"/>
<line x1="653.30" y1="95.00" x2="653.30" y2="110.00" stroke="#777" stroke-width="0.5"/>
<line x1="651.50" y1="95.00" x2="655.10" y2="95.00" stroke="#777" stroke-width="0.5"/>
<line x1="651.50" y1="110.00" x2="655.10" y2="110.00" stroke="#777" stroke-width="0.5"/>
<ellipse cx="653.3" cy="101.8" rx="1.6" ry="1.6" fill="#000"/>
<line x1="669.00" y1="114.00" x2="669.00" y2="124.00" stroke="#777" stroke-width="0.5"/>
<line x1="667.20" y1="114.00" x2="670.80" y2="114.00" stroke="#777" stroke-width="0.5"/>
<line x1="667.20" y1="124.00" x2="670.80" y2="124.00" stroke="#777" stroke-width="0.5"/>
<ellipse cx="669.0" cy="119" rx="1.6" ry="1.6" fill="#000"/>
<text x="2.6" y="223" font-size="14.2" text-anchor="start" font-weight="bold" fill="#111">C)</text>
<text x="186.6" y="222.5" font-size="14.6" text-anchor="middle" font-weight="bold" fill="#111">SpO<tspan font-size="10" dy="3.5">2</tspan><tspan dy="-3.5"> and Pulse Rate</tspan></text>
<text x="67.4" y="242" font-size="12.9" text-anchor="middle" fill="#111">21% Oxygen</text>
<text x="179" y="241.5" font-size="12.9" text-anchor="middle" fill="#111">15% Oxygen</text>
<text x="288.9" y="240.7" font-size="12.9" text-anchor="middle" fill="#111">% Change</text>
<line x1="33.50" y1="251.40" x2="33.50" y2="319.30" stroke="#808080" stroke-width="1.2"/>
<line x1="30.90" y1="254.20" x2="33.20" y2="254.20" stroke="#808080" stroke-width="0.8"/>
<text x="28.800000000000004" y="256.7" font-size="9.3" text-anchor="end" fill="#111">100</text>
<line x1="30.90" y1="275.56" x2="33.20" y2="275.56" stroke="#808080" stroke-width="0.8"/>
<text x="28.800000000000004" y="278.065" font-size="9.3" text-anchor="end" fill="#111">95</text>
<line x1="30.90" y1="296.93" x2="33.20" y2="296.93" stroke="#808080" stroke-width="0.8"/>
<text x="28.800000000000004" y="299.43" font-size="9.3" text-anchor="end" fill="#111">90</text>
<line x1="30.90" y1="318.29" x2="33.20" y2="318.29" stroke="#808080" stroke-width="0.8"/>
<text x="28.800000000000004" y="320.79499999999996" font-size="9.3" text-anchor="end" fill="#111">85</text>
<line x1="33.90" y1="319.50" x2="108.50" y2="319.50" stroke="#808080" stroke-width="1.2"/>
<line x1="33.90" y1="319.30" x2="33.90" y2="321.50" stroke="#808080" stroke-width="0.8"/>
<line x1="40.50" y1="319.30" x2="40.50" y2="321.50" stroke="#808080" stroke-width="0.8"/>
<line x1="47.10" y1="319.30" x2="47.10" y2="321.50" stroke="#808080" stroke-width="0.8"/>
<line x1="53.70" y1="319.30" x2="53.70" y2="321.50" stroke="#808080" stroke-width="0.8"/>
<line x1="60.30" y1="319.30" x2="60.30" y2="321.50" stroke="#808080" stroke-width="0.8"/>
<line x1="66.90" y1="319.30" x2="66.90" y2="321.50" stroke="#808080" stroke-width="0.8"/>
<line x1="73.50" y1="319.30" x2="73.50" y2="321.50" stroke="#808080" stroke-width="0.8"/>
<line x1="80.10" y1="319.30" x2="80.10" y2="321.50" stroke="#808080" stroke-width="0.8"/>
<line x1="86.70" y1="319.30" x2="86.70" y2="321.50" stroke="#808080" stroke-width="0.8"/>
<line x1="93.30" y1="319.30" x2="93.30" y2="321.50" stroke="#808080" stroke-width="0.8"/>
<line x1="99.90" y1="319.30" x2="99.90" y2="321.50" stroke="#808080" stroke-width="0.8"/>
<line x1="106.50" y1="319.30" x2="106.50" y2="321.50" stroke="#808080" stroke-width="0.8"/>
<text x="0" y="0" font-size="10.2" text-anchor="middle" fill="#111" transform="translate(34.9 331.5) scale(0.88 1)">0</text>
<text x="0" y="0" font-size="10.2" text-anchor="middle" fill="#111" transform="translate(49.3 331.5) scale(0.88 1)">10</text>
<text x="0" y="0" font-size="10.2" text-anchor="middle" fill="#111" transform="translate(62.5 331.5) scale(0.88 1)">20</text>
<text x="0" y="0" font-size="10.2" text-anchor="middle" fill="#111" transform="translate(75.3 331.5) scale(0.88 1)">30</text>
<text x="0" y="0" font-size="10.2" text-anchor="middle" fill="#111" transform="translate(88.1 331.5) scale(0.88 1)">40</text>
<text x="0" y="0" font-size="10.2" text-anchor="middle" fill="#111" transform="translate(101 331.5) scale(0.88 1)">50</text>
<text x="11.3" y="286.3" font-size="9.5" text-anchor="middle" fill="#111" transform="rotate(-90 11.3 286.3)">SpO<tspan font-size="6.5" dy="2">2</tspan><tspan dy="-2"> (%)</tspan></text>
<path d="M34,262 C50,262 80,263 104,264 L104,273 C80,273 50,273 34,272.5 Z" fill="#cfcfcf" stroke="#b5b5b5" stroke-width="0.5"/>
<path d="M34,264 C60,264.5 80,265 104,264.6" fill="none" stroke="#b8b8b8" stroke-width="0.4"/>
<path d="M34,266.5 C60,267.0 80,267.5 104,267.1" fill="none" stroke="#b8b8b8" stroke-width="0.4"/>
<path d="M34,269 C60,269.5 80,270 104,269.6" fill="none" stroke="#b8b8b8" stroke-width="0.4"/>
<path d="M34,271 C60,271.5 80,272 104,271.6" fill="none" stroke="#b8b8b8" stroke-width="0.4"/>
<path d="M45.5,262.2 L51.9,268 L45.5,273 L39.2,268 Z" fill="#76965d" stroke="#333" stroke-width="0.6"/>
<path d="M64.1,262.4 L68,266 L69.7,268.5 L67,272.6 L61,272.6 L58.5,268.5 L60,266 Z" fill="#76965d" stroke="#333" stroke-width="0.6"/>
<path d="M82.7,265.1 L87,266 L88.3,268.5 L86.5,272 L82.7,273 L79,272 L76.2,268.5 L78,266 Z" fill="#76965d" stroke="#333" stroke-width="0.6"/>
<path d="M101.1,263 L103,266.5 L109.4,268.5 L103,270.5 L101.1,273.6 L99,270.5 L95.1,268.5 L99,266.5 Z" fill="#76965d" stroke="#333" stroke-width="0.6"/>
<ellipse cx="45.5" cy="268.4" rx="1.1" ry="1.3" fill="#000"/>
<ellipse cx="64.1" cy="268.4" rx="1.1" ry="1.3" fill="#000"/>
<ellipse cx="82.7" cy="268.4" rx="1.1" ry="1.3" fill="#000"/>
<ellipse cx="101.1" cy="268.4" rx="1.1" ry="1.3" fill="#000"/>
<line x1="145.50" y1="252.40" x2="145.50" y2="320.10" stroke="#808080" stroke-width="1.2"/>
<line x1="143.60" y1="257.00" x2="145.90" y2="257.00" stroke="#808080" stroke-width="0.8"/>
<text x="141.6" y="259.5" font-size="9.3" text-anchor="end" fill="#111">100</text>
<line x1="143.60" y1="277.54" x2="145.90" y2="277.54" stroke="#808080" stroke-width="0.8"/>
<text x="141.6" y="280.035" font-size="9.3" text-anchor="end" fill="#111">95</text>
<line x1="143.60" y1="298.07" x2="145.90" y2="298.07" stroke="#808080" stroke-width="0.8"/>
<text x="141.6" y="300.57" font-size="9.3" text-anchor="end" fill="#111">90</text>
<line x1="143.60" y1="318.61" x2="145.90" y2="318.61" stroke="#808080" stroke-width="0.8"/>
<text x="141.6" y="321.105" font-size="9.3" text-anchor="end" fill="#111">85</text>
<line x1="146.50" y1="320.50" x2="221.10" y2="320.50" stroke="#808080" stroke-width="1.2"/>
<line x1="146.50" y1="320.10" x2="146.50" y2="322.30" stroke="#808080" stroke-width="0.8"/>
<line x1="153.10" y1="320.10" x2="153.10" y2="322.30" stroke="#808080" stroke-width="0.8"/>
<line x1="159.70" y1="320.10" x2="159.70" y2="322.30" stroke="#808080" stroke-width="0.8"/>
<line x1="166.30" y1="320.10" x2="166.30" y2="322.30" stroke="#808080" stroke-width="0.8"/>
<line x1="172.90" y1="320.10" x2="172.90" y2="322.30" stroke="#808080" stroke-width="0.8"/>
<line x1="179.50" y1="320.10" x2="179.50" y2="322.30" stroke="#808080" stroke-width="0.8"/>
<line x1="186.10" y1="320.10" x2="186.10" y2="322.30" stroke="#808080" stroke-width="0.8"/>
<line x1="192.70" y1="320.10" x2="192.70" y2="322.30" stroke="#808080" stroke-width="0.8"/>
<line x1="199.30" y1="320.10" x2="199.30" y2="322.30" stroke="#808080" stroke-width="0.8"/>
<line x1="205.90" y1="320.10" x2="205.90" y2="322.30" stroke="#808080" stroke-width="0.8"/>
<line x1="212.50" y1="320.10" x2="212.50" y2="322.30" stroke="#808080" stroke-width="0.8"/>
<line x1="219.10" y1="320.10" x2="219.10" y2="322.30" stroke="#808080" stroke-width="0.8"/>
<text x="0" y="0" font-size="10.2" text-anchor="middle" fill="#111" transform="translate(147.2 332.0) scale(0.88 1)">0</text>
<text x="0" y="0" font-size="10.2" text-anchor="middle" fill="#111" transform="translate(161.4 332.0) scale(0.88 1)">10</text>
<text x="0" y="0" font-size="10.2" text-anchor="middle" fill="#111" transform="translate(174.5 332.0) scale(0.88 1)">20</text>
<text x="0" y="0" font-size="10.2" text-anchor="middle" fill="#111" transform="translate(187.3 332.0) scale(0.88 1)">30</text>
<text x="0" y="0" font-size="10.2" text-anchor="middle" fill="#111" transform="translate(200 332.0) scale(0.88 1)">40</text>
<text x="0" y="0" font-size="10.2" text-anchor="middle" fill="#111" transform="translate(213.6 332.0) scale(0.88 1)">50</text>
<text x="123.3" y="288.8" font-size="9.5" text-anchor="middle" fill="#111" transform="rotate(-90 123.3 288.8)">SpO<tspan font-size="6.5" dy="2">2</tspan><tspan dy="-2"> (%)</tspan></text>
<clipPath id="cb2"><path d="M146.3,261.8 C149,268 151,272 156.8,275.6 C165,278.3 175,279 190,279.3 C200,279.5 210,279.8 219,279.5 L219,302.5 C205,302.5 195,304 185,304.5 C175,303 165,301 160,300.4 C155,298 153.5,296 152.7,293.5 C150,288 148.5,284 146.3,267.3 Z"/></clipPath>
<path d="M146.3,261.8 C149,268 151,272 156.8,275.6 C165,278.3 175,279 190,279.3 C200,279.5 210,279.8 219,279.5 L219,302.5 C205,302.5 195,304 185,304.5 C175,303 165,301 160,300.4 C155,298 153.5,296 152.7,293.5 C150,288 148.5,284 146.3,267.3 Z" fill="#cdcdcd" stroke="none"/>
<g clip-path="url(#cb2)">
<path d="M146.5,262 C150,277 160,280 219,280.3" fill="none" stroke="#a8a8a8" stroke-width="0.4"/>
<path d="M146.5,265 C150,280 160,283 219,283.3" fill="none" stroke="#a8a8a8" stroke-width="0.4"/>
<path d="M146.5,268 C150,283 160,286 219,286.3" fill="none" stroke="#a8a8a8" stroke-width="0.4"/>
<path d="M146.5,272 C150,286 160,289 219,289.3" fill="none" stroke="#a8a8a8" stroke-width="0.4"/>
<path d="M146.5,276 C150,289 160,292 219,292.3" fill="none" stroke="#a8a8a8" stroke-width="0.4"/>
<path d="M146.5,281 C150,292 160,295 219,295.3" fill="none" stroke="#a8a8a8" stroke-width="0.4"/>
<path d="M146.5,285 C150,295 160,298 219,298.3" fill="none" stroke="#a8a8a8" stroke-width="0.4"/>
<path d="M146.5,290 C150,298 160,301 219,301.3" fill="none" stroke="#a8a8a8" stroke-width="0.4"/>
</g>
<path d="M146.3,261.8 C149,268 151,272 156.8,275.6 C165,278.3 175,279 190,279.3 C200,279.5 210,279.8 219,279.5 L219,302.5 C205,302.5 195,304 185,304.5 C175,303 165,301 160,300.4 C155,298 153.5,296 152.7,293.5 C150,288 148.5,284 146.3,267.3 Z" fill="none" stroke="#e07070" stroke-width="0.6"/>
<path d="M160,271 L177.5,275.3 L194.7,278.6 L212.7,283.9" fill="none" stroke="#999" stroke-width="0.5"/>
<path d="M160,301 L177.5,304 L194.7,301 L212.7,300.4" fill="none" stroke="#999" stroke-width="0.5"/>
<path d="M161.30,270.80 C161.32,271.08 161.48,271.82 161.40,272.50 C161.32,273.18 160.83,274.07 160.80,274.90 C160.77,275.73 161.03,276.58 161.20,277.50 C161.37,278.42 161.17,279.33 161.80,280.40 C162.43,281.47 164.07,282.40 165.00,283.90 C165.93,285.40 167.52,287.80 167.40,289.40 C167.28,291.00 165.15,292.47 164.30,293.50 C163.45,294.53 162.53,294.68 162.30,295.60 C162.07,296.52 162.90,298.08 162.90,299.00 C162.90,299.92 162.40,300.75 162.30,301.10 L157.30,301.10 C157.20,300.75 156.70,299.92 156.70,299.00 C156.70,298.08 157.53,296.52 157.30,295.60 C157.07,294.68 156.15,294.53 155.30,293.50 C154.45,292.47 152.32,291.00 152.20,289.40 C152.08,287.80 153.67,285.40 154.60,283.90 C155.53,282.40 157.17,281.47 157.80,280.40 C158.43,279.33 158.23,278.42 158.40,277.50 C158.57,276.58 158.83,275.73 158.80,274.90 C158.77,274.07 158.28,273.18 158.20,272.50 C158.12,271.82 158.28,271.08 158.30,270.80 Z" fill="#b22a2a" stroke="#333" stroke-width="0.6" fill-opacity="1"/>
<path d="M179.10,275.30 C179.30,276.03 179.90,278.05 180.30,279.70 C180.70,281.35 181.20,283.13 181.50,285.20 C181.80,287.27 182.10,289.80 182.10,292.10 C182.10,294.40 182.02,297.03 181.50,299.00 C180.98,300.97 179.42,303.08 179.00,303.90 L176.00,303.90 C175.58,303.08 174.02,300.97 173.50,299.00 C172.98,297.03 172.90,294.40 172.90,292.10 C172.90,289.80 173.20,287.27 173.50,285.20 C173.80,283.13 174.30,281.35 174.70,279.70 C175.10,278.05 175.70,276.03 175.90,275.30 Z" fill="#b22a2a" stroke="#333" stroke-width="0.6" fill-opacity="1"/>
<path d="M197.30,278.60 C197.55,279.25 198.65,281.40 198.80,282.50 C198.95,283.60 198.05,283.82 198.20,285.20 C198.35,286.58 199.52,288.95 199.70,290.80 C199.88,292.65 199.67,294.58 199.30,296.30 C198.93,298.02 197.80,300.30 197.50,301.10 L191.90,301.10 C191.60,300.30 190.47,298.02 190.10,296.30 C189.73,294.58 189.52,292.65 189.70,290.80 C189.88,288.95 191.05,286.58 191.20,285.20 C191.35,283.82 190.45,283.60 190.60,282.50 C190.75,281.40 191.85,279.25 192.10,278.60 Z" fill="#b22a2a" stroke="#333" stroke-width="0.6" fill-opacity="1"/>
<path d="M206.6,283.9 L218.8,283.9 L215.8,300.4 L209.6,300.4 Z" fill="#b22a2a" stroke="#333" stroke-width="0.6"/>
<line x1="159.80" y1="281.40" x2="159.80" y2="297.40" stroke="#555" stroke-width="0.4"/>
<ellipse cx="159.8" cy="289.4" rx="1.1" ry="1.3" fill="#000"/>
<line x1="177.50" y1="283.90" x2="177.50" y2="299.90" stroke="#555" stroke-width="0.4"/>
<ellipse cx="177.5" cy="291.9" rx="1.1" ry="1.3" fill="#000"/>
<line x1="194.70" y1="283.90" x2="194.70" y2="299.90" stroke="#555" stroke-width="0.4"/>
<ellipse cx="194.7" cy="291.9" rx="1.1" ry="1.3" fill="#000"/>
<line x1="212.70" y1="282.80" x2="212.70" y2="298.80" stroke="#555" stroke-width="0.4"/>
<ellipse cx="212.7" cy="290.8" rx="1.1" ry="1.3" fill="#000"/>
<line x1="255.50" y1="249.50" x2="255.50" y2="320.30" stroke="#808080" stroke-width="1.2"/>
<line x1="253.00" y1="253.29" x2="255.30" y2="253.29" stroke="#808080" stroke-width="0.8"/>
<text x="250.10000000000002" y="255.79000000000002" font-size="9.3" text-anchor="end" fill="#111">30</text>
<line x1="253.00" y1="263.56" x2="255.30" y2="263.56" stroke="#808080" stroke-width="0.8"/>
<text x="250.10000000000002" y="266.06" font-size="9.3" text-anchor="end" fill="#111">20</text>
<line x1="253.00" y1="273.83" x2="255.30" y2="273.83" stroke="#808080" stroke-width="0.8"/>
<text x="250.10000000000002" y="276.33000000000004" font-size="9.3" text-anchor="end" fill="#111">10</text>
<line x1="253.00" y1="284.10" x2="255.30" y2="284.10" stroke="#808080" stroke-width="0.8"/>
<text x="250.10000000000002" y="286.6" font-size="9.3" text-anchor="end" fill="#111">0</text>
<line x1="253.00" y1="294.37" x2="255.30" y2="294.37" stroke="#808080" stroke-width="0.8"/>
<text x="250.10000000000002" y="296.87" font-size="9.3" text-anchor="end" fill="#111">-10</text>
<line x1="253.00" y1="304.64" x2="255.30" y2="304.64" stroke="#808080" stroke-width="0.8"/>
<text x="250.10000000000002" y="307.14000000000004" font-size="9.3" text-anchor="end" fill="#111">-20</text>
<line x1="253.00" y1="314.91" x2="255.30" y2="314.91" stroke="#808080" stroke-width="0.8"/>
<text x="250.10000000000002" y="317.41" font-size="9.3" text-anchor="end" fill="#111">-30</text>
<line x1="253.50" y1="258.43" x2="255.30" y2="258.43" stroke="#808080" stroke-width="0.7"/>
<line x1="253.50" y1="268.70" x2="255.30" y2="268.70" stroke="#808080" stroke-width="0.7"/>
<line x1="253.50" y1="278.97" x2="255.30" y2="278.97" stroke="#808080" stroke-width="0.7"/>
<line x1="253.50" y1="289.24" x2="255.30" y2="289.24" stroke="#808080" stroke-width="0.7"/>
<line x1="253.50" y1="299.50" x2="255.30" y2="299.50" stroke="#808080" stroke-width="0.7"/>
<line x1="253.50" y1="309.78" x2="255.30" y2="309.78" stroke="#808080" stroke-width="0.7"/>
<line x1="255.90" y1="320.50" x2="332.15" y2="320.50" stroke="#808080" stroke-width="1.2"/>
<line x1="255.90" y1="320.30" x2="255.90" y2="322.50" stroke="#808080" stroke-width="0.8"/>
<line x1="262.65" y1="320.30" x2="262.65" y2="322.50" stroke="#808080" stroke-width="0.8"/>
<line x1="269.40" y1="320.30" x2="269.40" y2="322.50" stroke="#808080" stroke-width="0.8"/>
<line x1="276.15" y1="320.30" x2="276.15" y2="322.50" stroke="#808080" stroke-width="0.8"/>
<line x1="282.90" y1="320.30" x2="282.90" y2="322.50" stroke="#808080" stroke-width="0.8"/>
<line x1="289.65" y1="320.30" x2="289.65" y2="322.50" stroke="#808080" stroke-width="0.8"/>
<line x1="296.40" y1="320.30" x2="296.40" y2="322.50" stroke="#808080" stroke-width="0.8"/>
<line x1="303.15" y1="320.30" x2="303.15" y2="322.50" stroke="#808080" stroke-width="0.8"/>
<line x1="309.90" y1="320.30" x2="309.90" y2="322.50" stroke="#808080" stroke-width="0.8"/>
<line x1="316.65" y1="320.30" x2="316.65" y2="322.50" stroke="#808080" stroke-width="0.8"/>
<line x1="323.40" y1="320.30" x2="323.40" y2="322.50" stroke="#808080" stroke-width="0.8"/>
<line x1="330.15" y1="320.30" x2="330.15" y2="322.50" stroke="#808080" stroke-width="0.8"/>
<text x="0" y="0" font-size="10.2" text-anchor="middle" fill="#111" transform="translate(257.9 332.2) scale(0.88 1)">0</text>
<text x="0" y="0" font-size="10.2" text-anchor="middle" fill="#111" transform="translate(271.7 332.2) scale(0.88 1)">10</text>
<text x="0" y="0" font-size="10.2" text-anchor="middle" fill="#111" transform="translate(284.8 332.2) scale(0.88 1)">20</text>
<text x="0" y="0" font-size="10.2" text-anchor="middle" fill="#111" transform="translate(298 332.2) scale(0.88 1)">30</text>
<text x="0" y="0" font-size="10.2" text-anchor="middle" fill="#111" transform="translate(310.7 332.2) scale(0.88 1)">40</text>
<text x="0" y="0" font-size="10.2" text-anchor="middle" fill="#111" transform="translate(323.6 332.2) scale(0.88 1)">50</text>
<text x="235.8" y="284.3" font-size="9.2" text-anchor="middle" fill="#111" transform="rotate(-90 235.8 284.3)">Percent Change (%)</text>
<rect x="256" y="285.5" width="74" height="6.5" fill="#ebebeb"/>
<line x1="256.00" y1="283.40" x2="330.70" y2="283.40" stroke="#444" stroke-width="0.8" stroke-dasharray="1.2,1.2"/>
<path d="M262.1,288.5 C264,286.5 267,285 269.4,285 C272,285 275,286.5 277,288.5 C275,290.5 272,291.6 269.4,291.6 C267,291.6 264,290.5 262.1,288.5 Z" fill="#fff" fill-opacity="0.85" stroke="#333" stroke-width="0.6"/>
<rect x="280.8" y="285.8" width="11.3" height="6.2" rx="3" fill="#fff" fill-opacity="0.85" stroke="#333" stroke-width="0.6"/>
<path d="M296,288.8 C298,287.8 300,287.5 301.5,287.3 C302.5,286.1 305,286.1 306,287.3 C308,287.5 310,287.8 312,288.8 C310,290.5 307,291 303.8,291 C300.5,291 298,290.5 296,288.8 Z" fill="#fff" fill-opacity="0.85" stroke="#333" stroke-width="0.6"/>
<path d="M314,289 C315,287.5 318,286.4 321.3,286.4 C324.5,286.4 327.5,287.5 328.7,289 C327.5,290.7 324.5,291.6 321.3,291.6 C318,291.6 315,290.7 314,289 Z" fill="#fff" fill-opacity="0.85" stroke="#333" stroke-width="0.6"/>
<ellipse cx="269.4" cy="288.6" rx="1.8" ry="1.4" fill="#000"/>
<ellipse cx="286.6" cy="288.6" rx="1.8" ry="1.4" fill="#000"/>
<ellipse cx="303.8" cy="288.6" rx="1.8" ry="1.4" fill="#000"/>
<ellipse cx="321.3" cy="288.6" rx="1.8" ry="1.4" fill="#000"/>
<line x1="34.50" y1="340.30" x2="34.50" y2="406.00" stroke="#808080" stroke-width="1.2"/>
<line x1="31.90" y1="343.00" x2="34.20" y2="343.00" stroke="#808080" stroke-width="0.8"/>
<text x="29.400000000000002" y="345.5" font-size="9.3" text-anchor="end" fill="#111">100</text>
<line x1="31.90" y1="363.20" x2="34.20" y2="363.20" stroke="#808080" stroke-width="0.8"/>
<text x="29.400000000000002" y="365.7" font-size="9.3" text-anchor="end" fill="#111">80</text>
<line x1="31.90" y1="383.40" x2="34.20" y2="383.40" stroke="#808080" stroke-width="0.8"/>
<text x="29.400000000000002" y="385.9" font-size="9.3" text-anchor="end" fill="#111">60</text>
<line x1="31.90" y1="403.60" x2="34.20" y2="403.60" stroke="#808080" stroke-width="0.8"/>
<text x="29.400000000000002" y="406.1" font-size="9.3" text-anchor="end" fill="#111">40</text>
<line x1="32.40" y1="353.10" x2="34.20" y2="353.10" stroke="#808080" stroke-width="0.7"/>
<line x1="32.40" y1="373.30" x2="34.20" y2="373.30" stroke="#808080" stroke-width="0.7"/>
<line x1="32.40" y1="393.50" x2="34.20" y2="393.50" stroke="#808080" stroke-width="0.7"/>
<line x1="33.90" y1="406.50" x2="108.50" y2="406.50" stroke="#808080" stroke-width="1.2"/>
<line x1="33.90" y1="406.00" x2="33.90" y2="408.20" stroke="#808080" stroke-width="0.8"/>
<line x1="40.50" y1="406.00" x2="40.50" y2="408.20" stroke="#808080" stroke-width="0.8"/>
<line x1="47.10" y1="406.00" x2="47.10" y2="408.20" stroke="#808080" stroke-width="0.8"/>
<line x1="53.70" y1="406.00" x2="53.70" y2="408.20" stroke="#808080" stroke-width="0.8"/>
<line x1="60.30" y1="406.00" x2="60.30" y2="408.20" stroke="#808080" stroke-width="0.8"/>
<line x1="66.90" y1="406.00" x2="66.90" y2="408.20" stroke="#808080" stroke-width="0.8"/>
<line x1="73.50" y1="406.00" x2="73.50" y2="408.20" stroke="#808080" stroke-width="0.8"/>
<line x1="80.10" y1="406.00" x2="80.10" y2="408.20" stroke="#808080" stroke-width="0.8"/>
<line x1="86.70" y1="406.00" x2="86.70" y2="408.20" stroke="#808080" stroke-width="0.8"/>
<line x1="93.30" y1="406.00" x2="93.30" y2="408.20" stroke="#808080" stroke-width="0.8"/>
<line x1="99.90" y1="406.00" x2="99.90" y2="408.20" stroke="#808080" stroke-width="0.8"/>
<line x1="106.50" y1="406.00" x2="106.50" y2="408.20" stroke="#808080" stroke-width="0.8"/>
<text x="0" y="0" font-size="10.2" text-anchor="middle" fill="#111" transform="translate(34.9 418.9) scale(0.88 1)">0</text>
<text x="0" y="0" font-size="10.2" text-anchor="middle" fill="#111" transform="translate(49.3 418.9) scale(0.88 1)">10</text>
<text x="0" y="0" font-size="10.2" text-anchor="middle" fill="#111" transform="translate(62.5 418.9) scale(0.88 1)">20</text>
<text x="0" y="0" font-size="10.2" text-anchor="middle" fill="#111" transform="translate(75.3 418.9) scale(0.88 1)">30</text>
<text x="0" y="0" font-size="10.2" text-anchor="middle" fill="#111" transform="translate(88.1 418.9) scale(0.88 1)">40</text>
<text x="0" y="0" font-size="10.2" text-anchor="middle" fill="#111" transform="translate(101 418.9) scale(0.88 1)">50</text>
<text x="70.5" y="429.6" font-size="9.5" text-anchor="middle" fill="#111">Time (Minutes)</text>
<text x="13.2" y="371.7" font-size="9.34" text-anchor="middle" fill="#111" transform="rotate(-90 13.2 371.7)">Pulse Rate (BPM)</text>
<path d="M34,351.6 C42,353 46,356 51.7,356.4 C70,357 90,355 107.6,355 L107.6,375 C90,377 70,378 51.7,376.4 C46,376 40,374 34,372.9 Z" fill="#cfcfcf" stroke="#b8c8a8" stroke-width="0.5"/>
<path d="M34,347 L108,346" fill="none" stroke="#b0b0b0" stroke-width="0.4"/>
<path d="M34,349 L108,351" fill="none" stroke="#b0b0b0" stroke-width="0.4"/>
<path d="M34,352 L108,349" fill="none" stroke="#b0b0b0" stroke-width="0.4"/>
<path d="M34,358 L108,357" fill="none" stroke="#b0b0b0" stroke-width="0.4"/>
<path d="M34,361 L108,362" fill="none" stroke="#b0b0b0" stroke-width="0.4"/>
<path d="M34,364 L108,366" fill="none" stroke="#b0b0b0" stroke-width="0.4"/>
<path d="M34,371 L108,372" fill="none" stroke="#b0b0b0" stroke-width="0.4"/>
<path d="M34,381 L108,380" fill="none" stroke="#b0b0b0" stroke-width="0.4"/>
<path d="M34,384 L108,382" fill="none" stroke="#b0b0b0" stroke-width="0.4"/>
<path d="M46.90,346.30 C46.87,347.08 46.75,349.55 46.70,351.00 C46.65,352.45 46.50,353.92 46.60,355.00 C46.70,356.08 46.98,356.67 47.30,357.50 C47.62,358.33 48.05,358.75 48.50,360.00 C48.95,361.25 49.58,363.33 50.00,365.00 C50.42,366.67 50.85,368.10 51.00,370.00 C51.15,371.90 51.18,374.57 50.90,376.40 C50.62,378.23 49.87,379.62 49.30,381.00 C48.73,382.38 47.80,384.08 47.50,384.70 L41.90,384.70 C41.60,384.08 40.67,382.38 40.10,381.00 C39.53,379.62 38.78,378.23 38.50,376.40 C38.22,374.57 38.25,371.90 38.40,370.00 C38.55,368.10 38.98,366.67 39.40,365.00 C39.82,363.33 40.45,361.25 40.90,360.00 C41.35,358.75 41.78,358.33 42.10,357.50 C42.42,356.67 42.70,356.08 42.80,355.00 C42.90,353.92 42.75,352.45 42.70,351.00 C42.65,349.55 42.53,347.08 42.50,346.30 Z" fill="#76965d" stroke="#333" stroke-width="0.6" fill-opacity="1"/>
<path d="M65.90,347.70 C65.85,348.08 65.75,349.13 65.60,350.00 C65.45,350.87 64.95,351.50 65.00,352.90 C65.05,354.30 65.37,356.78 65.90,358.40 C66.43,360.02 67.28,360.75 68.20,362.60 C69.12,364.45 71.40,366.97 71.40,369.50 C71.40,372.03 69.00,375.88 68.20,377.80 C67.40,379.72 67.07,380.08 66.60,381.00 C66.13,381.92 65.60,382.92 65.40,383.30 L61.40,383.30 C61.20,382.92 60.67,381.92 60.20,381.00 C59.73,380.08 59.40,379.72 58.60,377.80 C57.80,375.88 55.40,372.03 55.40,369.50 C55.40,366.97 57.68,364.45 58.60,362.60 C59.52,360.75 60.37,360.02 60.90,358.40 C61.43,356.78 61.75,354.30 61.80,352.90 C61.85,351.50 61.35,350.87 61.20,350.00 C61.05,349.13 60.95,348.08 60.90,347.70 Z" fill="#76965d" stroke="#333" stroke-width="0.6" fill-opacity="1"/>
<path d="M84.70,347.70 C84.78,348.42 84.97,350.45 85.20,352.00 C85.43,353.55 85.72,355.17 86.10,357.00 C86.48,358.83 87.15,360.92 87.50,363.00 C87.85,365.08 88.43,367.03 88.20,369.50 C87.97,371.97 86.72,375.62 86.10,377.80 C85.48,379.98 84.77,381.80 84.50,382.60 L79.50,382.60 C79.23,381.80 78.52,379.98 77.90,377.80 C77.28,375.62 76.03,371.97 75.80,369.50 C75.57,367.03 76.15,365.08 76.50,363.00 C76.85,360.92 77.52,358.83 77.90,357.00 C78.28,355.17 78.57,353.55 78.80,352.00 C79.03,350.45 79.22,348.42 79.30,347.70 Z" fill="#76965d" stroke="#333" stroke-width="0.6" fill-opacity="1"/>
<path d="M104.20,350.90 C104.38,351.58 104.95,353.52 105.30,355.00 C105.65,356.48 106.02,357.38 106.30,359.80 C106.58,362.22 107.15,366.50 107.00,369.50 C106.85,372.50 105.97,375.62 105.40,377.80 C104.83,379.98 103.90,381.80 103.60,382.60 L98.60,382.60 C98.30,381.80 97.37,379.98 96.80,377.80 C96.23,375.62 95.35,372.50 95.20,369.50 C95.05,366.50 95.62,362.22 95.90,359.80 C96.18,357.38 96.55,356.48 96.90,355.00 C97.25,353.52 97.82,351.58 98.00,350.90 Z" fill="#76965d" stroke="#333" stroke-width="0.6" fill-opacity="1"/>
<path d="M34,349 L108,347" fill="none" stroke="#d8d8d8" stroke-width="0.45" stroke-opacity="0.55"/>
<path d="M34,352 L108,353" fill="none" stroke="#d8d8d8" stroke-width="0.45" stroke-opacity="0.55"/>
<path d="M34,355 L108,354" fill="none" stroke="#d8d8d8" stroke-width="0.45" stroke-opacity="0.55"/>
<path d="M34,359 L108,358" fill="none" stroke="#d8d8d8" stroke-width="0.45" stroke-opacity="0.55"/>
<path d="M34,362 L108,364" fill="none" stroke="#d8d8d8" stroke-width="0.45" stroke-opacity="0.55"/>
<path d="M34,366 L108,365" fill="none" stroke="#d8d8d8" stroke-width="0.45" stroke-opacity="0.55"/>
<path d="M34,370 L108,371" fill="none" stroke="#d8d8d8" stroke-width="0.45" stroke-opacity="0.55"/>
<path d="M34,374 L108,373" fill="none" stroke="#d8d8d8" stroke-width="0.45" stroke-opacity="0.55"/>
<path d="M34,378 L108,379" fill="none" stroke="#d8d8d8" stroke-width="0.45" stroke-opacity="0.55"/>
<path d="M34,382 L108,381" fill="none" stroke="#d8d8d8" stroke-width="0.45" stroke-opacity="0.55"/>
<line x1="44.80" y1="357.00" x2="44.80" y2="379.40" stroke="#333" stroke-width="0.4"/>
<line x1="42.20" y1="357.00" x2="47.40" y2="357.00" stroke="#333" stroke-width="0.4"/>
<line x1="42.20" y1="379.40" x2="47.40" y2="379.40" stroke="#333" stroke-width="0.4"/>
<ellipse cx="44.8" cy="368.1" rx="1.2" ry="1.7" fill="#000"/>
<line x1="63.40" y1="358.40" x2="63.40" y2="378.40" stroke="#333" stroke-width="0.4"/>
<line x1="60.80" y1="358.40" x2="66.00" y2="358.40" stroke="#333" stroke-width="0.4"/>
<line x1="60.80" y1="378.40" x2="66.00" y2="378.40" stroke="#333" stroke-width="0.4"/>
<ellipse cx="63.4" cy="368.1" rx="1.2" ry="1.7" fill="#000"/>
<line x1="82.00" y1="357.00" x2="82.00" y2="377.00" stroke="#333" stroke-width="0.4"/>
<line x1="79.40" y1="357.00" x2="84.60" y2="357.00" stroke="#333" stroke-width="0.4"/>
<line x1="79.40" y1="377.00" x2="84.60" y2="377.00" stroke="#333" stroke-width="0.4"/>
<ellipse cx="82" cy="367.7" rx="1.2" ry="1.7" fill="#000"/>
<line x1="101.10" y1="359.00" x2="101.10" y2="377.00" stroke="#333" stroke-width="0.4"/>
<line x1="98.50" y1="359.00" x2="103.70" y2="359.00" stroke="#333" stroke-width="0.4"/>
<line x1="98.50" y1="377.00" x2="103.70" y2="377.00" stroke="#333" stroke-width="0.4"/>
<ellipse cx="101.1" cy="367.7" rx="1.2" ry="1.7" fill="#000"/>
<line x1="146.50" y1="340.20" x2="146.50" y2="406.60" stroke="#808080" stroke-width="1.2"/>
<line x1="144.40" y1="343.30" x2="146.70" y2="343.30" stroke="#808080" stroke-width="0.8"/>
<text x="142.0" y="345.8" font-size="9.3" text-anchor="end" fill="#111">100</text>
<line x1="144.40" y1="363.70" x2="146.70" y2="363.70" stroke="#808080" stroke-width="0.8"/>
<text x="142.0" y="366.2" font-size="9.3" text-anchor="end" fill="#111">80</text>
<line x1="144.40" y1="384.10" x2="146.70" y2="384.10" stroke="#808080" stroke-width="0.8"/>
<text x="142.0" y="386.6" font-size="9.3" text-anchor="end" fill="#111">60</text>
<line x1="144.40" y1="404.50" x2="146.70" y2="404.50" stroke="#808080" stroke-width="0.8"/>
<text x="142.0" y="407.0" font-size="9.3" text-anchor="end" fill="#111">40</text>
<line x1="144.90" y1="353.50" x2="146.70" y2="353.50" stroke="#808080" stroke-width="0.7"/>
<line x1="144.90" y1="373.90" x2="146.70" y2="373.90" stroke="#808080" stroke-width="0.7"/>
<line x1="144.90" y1="394.30" x2="146.70" y2="394.30" stroke="#808080" stroke-width="0.7"/>
<line x1="146.50" y1="406.50" x2="221.10" y2="406.50" stroke="#808080" stroke-width="1.2"/>
<line x1="146.50" y1="406.60" x2="146.50" y2="408.80" stroke="#808080" stroke-width="0.8"/>
<line x1="153.10" y1="406.60" x2="153.10" y2="408.80" stroke="#808080" stroke-width="0.8"/>
<line x1="159.70" y1="406.60" x2="159.70" y2="408.80" stroke="#808080" stroke-width="0.8"/>
<line x1="166.30" y1="406.60" x2="166.30" y2="408.80" stroke="#808080" stroke-width="0.8"/>
<line x1="172.90" y1="406.60" x2="172.90" y2="408.80" stroke="#808080" stroke-width="0.8"/>
<line x1="179.50" y1="406.60" x2="179.50" y2="408.80" stroke="#808080" stroke-width="0.8"/>
<line x1="186.10" y1="406.60" x2="186.10" y2="408.80" stroke="#808080" stroke-width="0.8"/>
<line x1="192.70" y1="406.60" x2="192.70" y2="408.80" stroke="#808080" stroke-width="0.8"/>
<line x1="199.30" y1="406.60" x2="199.30" y2="408.80" stroke="#808080" stroke-width="0.8"/>
<line x1="205.90" y1="406.60" x2="205.90" y2="408.80" stroke="#808080" stroke-width="0.8"/>
<line x1="212.50" y1="406.60" x2="212.50" y2="408.80" stroke="#808080" stroke-width="0.8"/>
<line x1="219.10" y1="406.60" x2="219.10" y2="408.80" stroke="#808080" stroke-width="0.8"/>
<text x="0" y="0" font-size="10.2" text-anchor="middle" fill="#111" transform="translate(147.2 419.2) scale(0.88 1)">0</text>
<text x="0" y="0" font-size="10.2" text-anchor="middle" fill="#111" transform="translate(161.4 419.2) scale(0.88 1)">10</text>
<text x="0" y="0" font-size="10.2" text-anchor="middle" fill="#111" transform="translate(174.5 419.2) scale(0.88 1)">20</text>
<text x="0" y="0" font-size="10.2" text-anchor="middle" fill="#111" transform="translate(187.3 419.2) scale(0.88 1)">30</text>
<text x="0" y="0" font-size="10.2" text-anchor="middle" fill="#111" transform="translate(200 419.2) scale(0.88 1)">40</text>
<text x="0" y="0" font-size="10.2" text-anchor="middle" fill="#111" transform="translate(213.6 419.2) scale(0.88 1)">50</text>
<text x="183" y="430.6" font-size="9.5" text-anchor="middle" fill="#111">Time (Minutes)</text>
<text x="124.8" y="373" font-size="9.6" text-anchor="middle" fill="#111" transform="rotate(-90 124.8 373)">Pulse Rate (BPM)</text>
<path d="M146.4,351.6 C170,351 200,350.5 219.6,350.5 L219.6,375.7 C200,375.5 170,376 146.4,375.7 Z" fill="#cdcdcd" stroke="#e07070" stroke-width="0.6"/>
<path d="M146.4,349 L219.6,348" fill="none" stroke="#aaa" stroke-width="0.4"/>
<path d="M146.4,353 L219.6,351" fill="none" stroke="#aaa" stroke-width="0.4"/>
<path d="M146.4,357 L219.6,355" fill="none" stroke="#aaa" stroke-width="0.4"/>
<path d="M146.4,360 L219.6,362" fill="none" stroke="#aaa" stroke-width="0.4"/>
<path d="M146.4,364 L219.6,361" fill="none" stroke="#aaa" stroke-width="0.4"/>
<path d="M146.4,368 L219.6,370" fill="none" stroke="#aaa" stroke-width="0.4"/>
<path d="M146.4,372 L219.6,369" fill="none" stroke="#aaa" stroke-width="0.4"/>
<path d="M146.4,379 L219.6,378" fill="none" stroke="#aaa" stroke-width="0.4"/>
<path d="M146.4,382 L219.6,381" fill="none" stroke="#aaa" stroke-width="0.4"/>
<path d="M161.90,350.20 C162.35,351.12 163.98,353.40 164.60,355.70 C165.22,358.00 165.58,361.02 165.60,364.00 C165.62,366.98 165.15,371.10 164.70,373.60 C164.25,376.10 163.62,377.38 162.90,379.00 C162.18,380.62 160.82,382.58 160.40,383.30 L156.40,383.30 C155.98,382.58 154.62,380.62 153.90,379.00 C153.18,377.38 152.55,376.10 152.10,373.60 C151.65,371.10 151.18,366.98 151.20,364.00 C151.22,361.02 151.58,358.00 152.20,355.70 C152.82,353.40 154.45,351.12 154.90,350.20 Z" fill="#b22a2a" stroke="#333" stroke-width="0.6" fill-opacity="1"/>
<path d="M178.10,348.80 C178.43,349.33 179.47,350.85 180.10,352.00 C180.73,353.15 181.37,353.25 181.90,355.70 C182.43,358.15 183.28,363.25 183.30,366.70 C183.32,370.15 182.45,374.18 182.00,376.40 C181.55,378.62 181.17,378.85 180.60,380.00 C180.03,381.15 178.93,382.75 178.60,383.30 L173.60,383.30 C173.27,382.75 172.17,381.15 171.60,380.00 C171.03,378.85 170.65,378.62 170.20,376.40 C169.75,374.18 168.88,370.15 168.90,366.70 C168.92,363.25 169.77,358.15 170.30,355.70 C170.83,353.25 171.47,353.15 172.10,352.00 C172.73,350.85 173.77,349.33 174.10,348.80 Z" fill="#b22a2a" stroke="#333" stroke-width="0.6" fill-opacity="1"/>
<path d="M198.50,349.50 C198.67,350.53 199.22,353.28 199.50,355.70 C199.78,358.12 199.95,361.47 200.20,364.00 C200.45,366.53 201.00,368.83 201.00,370.90 C201.00,372.97 200.70,374.68 200.20,376.40 C199.70,378.12 198.37,380.40 198.00,381.20 L190.00,381.20 C189.63,380.40 188.30,378.12 187.80,376.40 C187.30,374.68 187.00,372.97 187.00,370.90 C187.00,368.83 187.55,366.53 187.80,364.00 C188.05,361.47 188.22,358.12 188.50,355.70 C188.78,353.28 189.33,350.53 189.50,349.50 Z" fill="#b22a2a" stroke="#333" stroke-width="0.6" fill-opacity="1"/>
<path d="M208.1,348.1 L215.1,348.1 C216.5,351 217,354 216.8,356 C216.5,359 216,362 216.8,364 C219,366 219.5,370 219.2,372 C218.5,375 216,376.4 211.6,376.4 L206.5,376.4 C205.5,374 205.2,370 205.5,366 C205.8,362 206,358 206.4,355.7 C207,352 207.5,350 208.1,348.1 Z" fill="#b22a2a" stroke="#333" stroke-width="0.6"/>
<path d="M146.6,350 L219.6,349" fill="none" stroke="#dcdcdc" stroke-width="0.45" stroke-opacity="0.5"/>
<path d="M146.6,353 L219.6,354" fill="none" stroke="#dcdcdc" stroke-width="0.45" stroke-opacity="0.5"/>
<path d="M146.6,356 L219.6,355" fill="none" stroke="#dcdcdc" stroke-width="0.45" stroke-opacity="0.5"/>
<path d="M146.6,359 L219.6,360" fill="none" stroke="#dcdcdc" stroke-width="0.45" stroke-opacity="0.5"/>
<path d="M146.6,363 L219.6,362" fill="none" stroke="#dcdcdc" stroke-width="0.45" stroke-opacity="0.5"/>
<path d="M146.6,367 L219.6,368" fill="none" stroke="#dcdcdc" stroke-width="0.45" stroke-opacity="0.5"/>
<path d="M146.6,371 L219.6,370" fill="none" stroke="#dcdcdc" stroke-width="0.45" stroke-opacity="0.5"/>
<path d="M146.6,375 L219.6,376" fill="none" stroke="#dcdcdc" stroke-width="0.45" stroke-opacity="0.5"/>
<path d="M146.6,379 L219.6,378" fill="none" stroke="#dcdcdc" stroke-width="0.45" stroke-opacity="0.5"/>
<path d="M146.6,382 L219.6,381" fill="none" stroke="#dcdcdc" stroke-width="0.45" stroke-opacity="0.5"/>
<line x1="158.40" y1="352.00" x2="158.40" y2="382.00" stroke="#bbb" stroke-width="0.5"/>
<line x1="158.40" y1="356.40" x2="158.40" y2="375.70" stroke="#333" stroke-width="0.4"/>
<line x1="155.80" y1="356.40" x2="161.00" y2="356.40" stroke="#333" stroke-width="0.4"/>
<line x1="155.80" y1="375.70" x2="161.00" y2="375.70" stroke="#333" stroke-width="0.4"/>
<ellipse cx="158.4" cy="366" rx="1.2" ry="1.7" fill="#000"/>
<line x1="176.10" y1="352.00" x2="176.10" y2="382.00" stroke="#bbb" stroke-width="0.5"/>
<line x1="176.10" y1="356.40" x2="176.10" y2="375.70" stroke="#333" stroke-width="0.4"/>
<line x1="173.50" y1="356.40" x2="178.70" y2="356.40" stroke="#333" stroke-width="0.4"/>
<line x1="173.50" y1="375.70" x2="178.70" y2="375.70" stroke="#333" stroke-width="0.4"/>
<ellipse cx="176.1" cy="366" rx="1.2" ry="1.7" fill="#000"/>
<line x1="194.00" y1="352.40" x2="194.00" y2="382.40" stroke="#bbb" stroke-width="0.5"/>
<line x1="194.00" y1="356.40" x2="194.00" y2="376.40" stroke="#333" stroke-width="0.4"/>
<line x1="191.40" y1="356.40" x2="196.60" y2="356.40" stroke="#333" stroke-width="0.4"/>
<line x1="191.40" y1="376.40" x2="196.60" y2="376.40" stroke="#333" stroke-width="0.4"/>
<ellipse cx="194" cy="366.4" rx="1.2" ry="1.7" fill="#000"/>
<line x1="211.60" y1="350.70" x2="211.60" y2="380.70" stroke="#bbb" stroke-width="0.5"/>
<line x1="211.60" y1="355.70" x2="211.60" y2="374.00" stroke="#333" stroke-width="0.4"/>
<line x1="209.00" y1="355.70" x2="214.20" y2="355.70" stroke="#333" stroke-width="0.4"/>
<line x1="209.00" y1="374.00" x2="214.20" y2="374.00" stroke="#333" stroke-width="0.4"/>
<ellipse cx="211.6" cy="364.7" rx="1.2" ry="1.7" fill="#000"/>
<line x1="256.50" y1="335.50" x2="256.50" y2="406.40" stroke="#808080" stroke-width="1.2"/>
<line x1="253.80" y1="338.90" x2="256.10" y2="338.90" stroke="#808080" stroke-width="0.8"/>
<text x="250.90000000000003" y="341.40000000000003" font-size="9.3" text-anchor="end" fill="#111">30</text>
<line x1="253.80" y1="349.30" x2="256.10" y2="349.30" stroke="#808080" stroke-width="0.8"/>
<text x="250.90000000000003" y="351.8" font-size="9.3" text-anchor="end" fill="#111">20</text>
<line x1="253.80" y1="359.70" x2="256.10" y2="359.70" stroke="#808080" stroke-width="0.8"/>
<text x="250.90000000000003" y="362.20000000000005" font-size="9.3" text-anchor="end" fill="#111">10</text>
<line x1="253.80" y1="370.10" x2="256.10" y2="370.10" stroke="#808080" stroke-width="0.8"/>
<text x="250.90000000000003" y="372.6" font-size="9.3" text-anchor="end" fill="#111">0</text>
<line x1="253.80" y1="380.50" x2="256.10" y2="380.50" stroke="#808080" stroke-width="0.8"/>
<text x="250.90000000000003" y="383.0" font-size="9.3" text-anchor="end" fill="#111">-10</text>
<line x1="253.80" y1="390.90" x2="256.10" y2="390.90" stroke="#808080" stroke-width="0.8"/>
<text x="250.90000000000003" y="393.40000000000003" font-size="9.3" text-anchor="end" fill="#111">-20</text>
<line x1="253.80" y1="401.30" x2="256.10" y2="401.30" stroke="#808080" stroke-width="0.8"/>
<text x="250.90000000000003" y="403.8" font-size="9.3" text-anchor="end" fill="#111">-30</text>
<line x1="254.30" y1="344.10" x2="256.10" y2="344.10" stroke="#808080" stroke-width="0.7"/>
<line x1="254.30" y1="354.50" x2="256.10" y2="354.50" stroke="#808080" stroke-width="0.7"/>
<line x1="254.30" y1="364.90" x2="256.10" y2="364.90" stroke="#808080" stroke-width="0.7"/>
<line x1="254.30" y1="375.30" x2="256.10" y2="375.30" stroke="#808080" stroke-width="0.7"/>
<line x1="254.30" y1="385.70" x2="256.10" y2="385.70" stroke="#808080" stroke-width="0.7"/>
<line x1="254.30" y1="396.10" x2="256.10" y2="396.10" stroke="#808080" stroke-width="0.7"/>
<line x1="255.90" y1="406.50" x2="332.15" y2="406.50" stroke="#808080" stroke-width="1.2"/>
<line x1="255.90" y1="406.60" x2="255.90" y2="408.80" stroke="#808080" stroke-width="0.8"/>
<line x1="262.65" y1="406.60" x2="262.65" y2="408.80" stroke="#808080" stroke-width="0.8"/>
<line x1="269.40" y1="406.60" x2="269.40" y2="408.80" stroke="#808080" stroke-width="0.8"/>
<line x1="276.15" y1="406.60" x2="276.15" y2="408.80" stroke="#808080" stroke-width="0.8"/>
<line x1="282.90" y1="406.60" x2="282.90" y2="408.80" stroke="#808080" stroke-width="0.8"/>
<line x1="289.65" y1="406.60" x2="289.65" y2="408.80" stroke="#808080" stroke-width="0.8"/>
<line x1="296.40" y1="406.60" x2="296.40" y2="408.80" stroke="#808080" stroke-width="0.8"/>
<line x1="303.15" y1="406.60" x2="303.15" y2="408.80" stroke="#808080" stroke-width="0.8"/>
<line x1="309.90" y1="406.60" x2="309.90" y2="408.80" stroke="#808080" stroke-width="0.8"/>
<line x1="316.65" y1="406.60" x2="316.65" y2="408.80" stroke="#808080" stroke-width="0.8"/>
<line x1="323.40" y1="406.60" x2="323.40" y2="408.80" stroke="#808080" stroke-width="0.8"/>
<line x1="330.15" y1="406.60" x2="330.15" y2="408.80" stroke="#808080" stroke-width="0.8"/>
<text x="0" y="0" font-size="10.2" text-anchor="middle" fill="#111" transform="translate(257.9 419.0) scale(0.88 1)">0</text>
<text x="0" y="0" font-size="10.2" text-anchor="middle" fill="#111" transform="translate(271.7 419.0) scale(0.88 1)">10</text>
<text x="0" y="0" font-size="10.2" text-anchor="middle" fill="#111" transform="translate(284.8 419.0) scale(0.88 1)">20</text>
<text x="0" y="0" font-size="10.2" text-anchor="middle" fill="#111" transform="translate(298 419.0) scale(0.88 1)">30</text>
<text x="0" y="0" font-size="10.2" text-anchor="middle" fill="#111" transform="translate(310.7 419.0) scale(0.88 1)">40</text>
<text x="0" y="0" font-size="10.2" text-anchor="middle" fill="#111" transform="translate(323.6 419.0) scale(0.88 1)">50</text>
<text x="295.4" y="430.6" font-size="9.5" text-anchor="middle" fill="#111">Time (Minutes)</text>
<text x="235.8" y="370.7" font-size="9.3" text-anchor="middle" fill="#111" transform="rotate(-90 235.8 370.7)">Percent Change (%)</text>
<path d="M269.2,338.3 L286.5,348.4 L304.2,338.3 L321.9,339.6" fill="none" stroke="#c8c8c8" stroke-width="0.45"/>
<path d="M269.2,352 L286.5,356 L304.2,354 L321.9,352" fill="none" stroke="#c8c8c8" stroke-width="0.45"/>
<path d="M269.2,358 L286.5,360 L304.2,362 L321.9,357" fill="none" stroke="#c8c8c8" stroke-width="0.45"/>
<path d="M269.2,362 L286.5,364 L304.2,366 L321.9,361" fill="none" stroke="#c8c8c8" stroke-width="0.45"/>
<path d="M269.2,366 L286.5,368 L304.2,370 L321.9,366" fill="none" stroke="#c8c8c8" stroke-width="0.45"/>
<path d="M269.2,373 L286.5,374 L304.2,375 L321.9,372" fill="none" stroke="#c8c8c8" stroke-width="0.45"/>
<path d="M269.2,376 L286.5,377 L304.2,378 L321.9,377" fill="none" stroke="#c8c8c8" stroke-width="0.45"/>
<line x1="256.00" y1="369.70" x2="330.60" y2="369.70" stroke="#444" stroke-width="0.8" stroke-dasharray="1.2,1.2"/>
<path d="M270.50,338.30 C270.50,339.42 270.47,342.72 270.50,345.00 C270.53,347.28 270.52,349.78 270.70,352.00 C270.88,354.22 271.22,355.98 271.60,358.30 C271.98,360.62 272.67,363.37 273.00,365.90 C273.33,368.43 273.53,371.43 273.60,373.50 C273.67,375.57 273.43,377.50 273.40,378.30 L265.00,378.30 C264.97,377.50 264.73,375.57 264.80,373.50 C264.87,371.43 265.07,368.43 265.40,365.90 C265.73,363.37 266.42,360.62 266.80,358.30 C267.18,355.98 267.52,354.22 267.70,352.00 C267.88,349.78 267.87,347.28 267.90,345.00 C267.93,342.72 267.90,339.42 267.90,338.30 Z" fill="#fff" stroke="#333" stroke-width="0.6" fill-opacity="0.85"/>
<path d="M287.40,348.40 C287.50,349.42 287.62,352.43 288.00,354.50 C288.38,356.57 289.23,358.88 289.70,360.80 C290.17,362.72 290.52,364.32 290.80,366.00 C291.08,367.68 291.35,369.40 291.40,370.90 C291.45,372.40 291.33,373.83 291.10,375.00 C290.87,376.17 290.18,377.42 290.00,377.90 L283.00,377.90 C282.82,377.42 282.13,376.17 281.90,375.00 C281.67,373.83 281.55,372.40 281.60,370.90 C281.65,369.40 281.92,367.68 282.20,366.00 C282.48,364.32 282.83,362.72 283.30,360.80 C283.77,358.88 284.62,356.57 285.00,354.50 C285.38,352.43 285.50,349.42 285.60,348.40 Z" fill="#fff" stroke="#333" stroke-width="0.6" fill-opacity="0.85"/>
<path d="M305.70,338.30 C305.65,338.67 305.52,339.72 305.40,340.50 C305.28,341.28 305.07,341.42 305.00,343.00 C304.93,344.58 304.98,347.87 305.00,350.00 C305.02,352.13 304.90,354.30 305.10,355.80 C305.30,357.30 305.82,357.75 306.20,359.00 C306.58,360.25 306.88,361.73 307.40,363.30 C307.92,364.87 308.52,366.70 309.30,368.40 C310.08,370.10 312.27,371.65 312.10,373.50 C311.93,375.35 308.93,378.50 308.30,379.50 L300.10,379.50 C299.47,378.50 296.47,375.35 296.30,373.50 C296.13,371.65 298.32,370.10 299.10,368.40 C299.88,366.70 300.48,364.87 301.00,363.30 C301.52,361.73 301.82,360.25 302.20,359.00 C302.58,357.75 303.10,357.30 303.30,355.80 C303.50,354.30 303.38,352.13 303.40,350.00 C303.42,347.87 303.47,344.58 303.40,343.00 C303.33,341.42 303.12,341.28 303.00,340.50 C302.88,339.72 302.75,338.67 302.70,338.30 Z" fill="#fff" stroke="#333" stroke-width="0.6" fill-opacity="0.85"/>
<path d="M296.5,372 L312,372 L308.3,379.3 L300.1,379.3 Z" fill="#d8d8d8" fill-opacity="0.8"/>
<path d="M322.90,339.60 C322.92,340.33 322.97,342.37 323.00,344.00 C323.03,345.63 322.93,347.65 323.10,349.40 C323.27,351.15 323.63,353.02 324.00,354.50 C324.37,355.98 325.05,356.55 325.30,358.30 C325.55,360.05 325.47,362.22 325.50,365.00 C325.53,367.78 325.57,372.67 325.50,375.00 C325.43,377.33 325.28,377.95 325.10,379.00 C324.92,380.05 324.52,380.92 324.40,381.30 L319.40,381.30 C319.28,380.92 318.88,380.05 318.70,379.00 C318.52,377.95 318.37,377.33 318.30,375.00 C318.23,372.67 318.27,367.78 318.30,365.00 C318.33,362.22 318.25,360.05 318.50,358.30 C318.75,356.55 319.43,355.98 319.80,354.50 C320.17,353.02 320.53,351.15 320.70,349.40 C320.87,347.65 320.77,345.63 320.80,344.00 C320.83,342.37 320.88,340.33 320.90,339.60 Z" fill="#fff" stroke="#333" stroke-width="0.6" fill-opacity="0.85"/>
<ellipse cx="269.2" cy="365.6" rx="1.6" ry="0.9" fill="#bbb" fill-opacity="0.8"/>
<ellipse cx="269.2" cy="373.0" rx="1.6" ry="0.9" fill="#bbb" fill-opacity="0.8"/>
<ellipse cx="269.2" cy="377.0" rx="1.6" ry="0.9" fill="#bbb" fill-opacity="0.8"/>
<ellipse cx="269.2" cy="359.5" rx="1.6" ry="0.9" fill="#bbb" fill-opacity="0.8"/>
<ellipse cx="269.2" cy="371.9" rx="1.6" ry="0.9" fill="#bbb" fill-opacity="0.8"/>
<ellipse cx="269.2" cy="370.3" rx="1.6" ry="0.9" fill="#bbb" fill-opacity="0.8"/>
<ellipse cx="269.2" cy="369.2" rx="1.6" ry="0.9" fill="#bbb" fill-opacity="0.8"/>
<line x1="269.20" y1="362.40" x2="269.20" y2="371.40" stroke="#888" stroke-width="0.4"/>
<line x1="267.60" y1="362.40" x2="270.80" y2="362.40" stroke="#888" stroke-width="0.4"/>
<line x1="267.60" y1="371.40" x2="270.80" y2="371.40" stroke="#888" stroke-width="0.4"/>
<ellipse cx="269.2" cy="366.9" rx="1.4" ry="1.3" fill="#000"/>
<ellipse cx="286.5" cy="358.3" rx="1.6" ry="0.9" fill="#bbb" fill-opacity="0.8"/>
<ellipse cx="286.5" cy="356.6" rx="1.6" ry="0.9" fill="#bbb" fill-opacity="0.8"/>
<ellipse cx="286.5" cy="364.1" rx="1.6" ry="0.9" fill="#bbb" fill-opacity="0.8"/>
<ellipse cx="286.5" cy="371.7" rx="1.6" ry="0.9" fill="#bbb" fill-opacity="0.8"/>
<ellipse cx="286.5" cy="361.3" rx="1.6" ry="0.9" fill="#bbb" fill-opacity="0.8"/>
<ellipse cx="286.5" cy="366.5" rx="1.6" ry="0.9" fill="#bbb" fill-opacity="0.8"/>
<ellipse cx="286.5" cy="362.7" rx="1.6" ry="0.9" fill="#bbb" fill-opacity="0.8"/>
<line x1="286.50" y1="363.30" x2="286.50" y2="372.30" stroke="#888" stroke-width="0.4"/>
<line x1="284.90" y1="363.30" x2="288.10" y2="363.30" stroke="#888" stroke-width="0.4"/>
<line x1="284.90" y1="372.30" x2="288.10" y2="372.30" stroke="#888" stroke-width="0.4"/>
<ellipse cx="286.5" cy="367.8" rx="1.4" ry="1.3" fill="#000"/>
<ellipse cx="304.2" cy="375.2" rx="1.6" ry="0.9" fill="#bbb" fill-opacity="0.8"/>
<ellipse cx="304.2" cy="377.0" rx="1.6" ry="0.9" fill="#bbb" fill-opacity="0.8"/>
<ellipse cx="304.2" cy="367.2" rx="1.6" ry="0.9" fill="#bbb" fill-opacity="0.8"/>
<ellipse cx="304.2" cy="378.0" rx="1.6" ry="0.9" fill="#bbb" fill-opacity="0.8"/>
<ellipse cx="304.2" cy="361.1" rx="1.6" ry="0.9" fill="#bbb" fill-opacity="0.8"/>
<ellipse cx="304.2" cy="374.6" rx="1.6" ry="0.9" fill="#bbb" fill-opacity="0.8"/>
<ellipse cx="304.2" cy="375.8" rx="1.6" ry="0.9" fill="#bbb" fill-opacity="0.8"/>
<line x1="304.20" y1="364.50" x2="304.20" y2="373.50" stroke="#888" stroke-width="0.4"/>
<line x1="302.60" y1="364.50" x2="305.80" y2="364.50" stroke="#888" stroke-width="0.4"/>
<line x1="302.60" y1="373.50" x2="305.80" y2="373.50" stroke="#888" stroke-width="0.4"/>
<ellipse cx="304.2" cy="369" rx="1.4" ry="1.3" fill="#000"/>
<ellipse cx="321.9" cy="357.9" rx="1.6" ry="0.9" fill="#bbb" fill-opacity="0.8"/>
<ellipse cx="321.9" cy="372.3" rx="1.6" ry="0.9" fill="#bbb" fill-opacity="0.8"/>
<ellipse cx="321.9" cy="368.5" rx="1.6" ry="0.9" fill="#bbb" fill-opacity="0.8"/>
<ellipse cx="321.9" cy="378.8" rx="1.6" ry="0.9" fill="#bbb" fill-opacity="0.8"/>
<ellipse cx="321.9" cy="359.5" rx="1.6" ry="0.9" fill="#bbb" fill-opacity="0.8"/>
<ellipse cx="321.9" cy="368.0" rx="1.6" ry="0.9" fill="#bbb" fill-opacity="0.8"/>
<ellipse cx="321.9" cy="376.9" rx="1.6" ry="0.9" fill="#bbb" fill-opacity="0.8"/>
<line x1="321.90" y1="361.60" x2="321.90" y2="370.60" stroke="#888" stroke-width="0.4"/>
<line x1="320.30" y1="361.60" x2="323.50" y2="361.60" stroke="#888" stroke-width="0.4"/>
<line x1="320.30" y1="370.60" x2="323.50" y2="370.60" stroke="#888" stroke-width="0.4"/>
<ellipse cx="321.9" cy="366.1" rx="1.4" ry="1.3" fill="#000"/>
<text x="355.5" y="222.9" font-size="14.2" text-anchor="start" font-weight="bold" fill="#111">D)</text>
<text x="538.3" y="222.5" font-size="14.7" text-anchor="middle" font-weight="bold" fill="#111">Z Thresholds versus Blood Oxygenation</text>
<line x1="384.50" y1="235.00" x2="384.50" y2="406.20" stroke="#444" stroke-width="1"/>
<line x1="381.70" y1="366.81" x2="384.20" y2="366.81" stroke="#444" stroke-width="0.7"/>
<line x1="381.70" y1="338.32" x2="384.20" y2="338.32" stroke="#444" stroke-width="0.7"/>
<line x1="381.70" y1="318.10" x2="384.20" y2="318.10" stroke="#444" stroke-width="0.7"/>
<line x1="382.40" y1="302.42" x2="384.20" y2="302.42" stroke="#444" stroke-width="0.7"/>
<line x1="381.70" y1="289.61" x2="384.20" y2="289.61" stroke="#444" stroke-width="0.7"/>
<line x1="382.40" y1="278.78" x2="384.20" y2="278.78" stroke="#444" stroke-width="0.7"/>
<line x1="381.70" y1="269.39" x2="384.20" y2="269.39" stroke="#444" stroke-width="0.7"/>
<line x1="382.40" y1="261.12" x2="384.20" y2="261.12" stroke="#444" stroke-width="0.7"/>
<line x1="382.40" y1="253.71" x2="384.20" y2="253.71" stroke="#444" stroke-width="0.7"/>
<line x1="382.40" y1="247.01" x2="384.20" y2="247.01" stroke="#444" stroke-width="0.7"/>
<line x1="381.70" y1="240.90" x2="384.20" y2="240.90" stroke="#444" stroke-width="0.7"/>
<text x="380.6" y="370.0077769757165" font-size="10" text-anchor="end" fill="#111">2</text>
<text x="380.6" y="341.515553951433" font-size="10" text-anchor="end" fill="#111">3</text>
<text x="380.6" y="321.3" font-size="10" text-anchor="end" fill="#111">4</text>
<text x="380.6" y="292.8077769757165" font-size="10" text-anchor="end" fill="#111">6</text>
<text x="380.6" y="272.59222302428344" font-size="10" text-anchor="end" fill="#111">8</text>
<text x="380.6" y="244.09999999999997" font-size="10" text-anchor="end" fill="#111">12</text>
<text x="362" y="320" font-size="10" text-anchor="middle" fill="#111" transform="rotate(-90 362 320)">Threshold (cm/s)</text>
<line x1="384.20" y1="406.50" x2="566.00" y2="406.50" stroke="#444" stroke-width="1"/>
<line x1="392.70" y1="406.20" x2="392.70" y2="408.50" stroke="#444" stroke-width="0.7"/>
<line x1="404.60" y1="406.20" x2="404.60" y2="408.50" stroke="#444" stroke-width="0.7"/>
<line x1="416.50" y1="406.20" x2="416.50" y2="408.50" stroke="#444" stroke-width="0.7"/>
<line x1="428.40" y1="406.20" x2="428.40" y2="408.50" stroke="#444" stroke-width="0.7"/>
<line x1="440.30" y1="406.20" x2="440.30" y2="408.50" stroke="#444" stroke-width="0.7"/>
<line x1="452.20" y1="406.20" x2="452.20" y2="408.50" stroke="#444" stroke-width="0.7"/>
<line x1="464.10" y1="406.20" x2="464.10" y2="408.50" stroke="#444" stroke-width="0.7"/>
<line x1="476.00" y1="406.20" x2="476.00" y2="408.50" stroke="#444" stroke-width="0.7"/>
<line x1="487.90" y1="406.20" x2="487.90" y2="408.50" stroke="#444" stroke-width="0.7"/>
<line x1="499.80" y1="406.20" x2="499.80" y2="408.50" stroke="#444" stroke-width="0.7"/>
<line x1="511.70" y1="406.20" x2="511.70" y2="408.50" stroke="#444" stroke-width="0.7"/>
<line x1="523.60" y1="406.20" x2="523.60" y2="408.50" stroke="#444" stroke-width="0.7"/>
<line x1="535.50" y1="406.20" x2="535.50" y2="408.50" stroke="#444" stroke-width="0.7"/>
<line x1="547.40" y1="406.20" x2="547.40" y2="408.50" stroke="#444" stroke-width="0.7"/>
<line x1="559.30" y1="406.20" x2="559.30" y2="408.50" stroke="#444" stroke-width="0.7"/>
<text x="394.09999999999997" y="417.6" font-size="9.8" text-anchor="middle" fill="#111">86</text>
<text x="417.9" y="417.6" font-size="9.8" text-anchor="middle" fill="#111">88</text>
<text x="441.7" y="417.6" font-size="9.8" text-anchor="middle" fill="#111">90</text>
<text x="465.5" y="417.6" font-size="9.8" text-anchor="middle" fill="#111">92</text>
<text x="489.29999999999995" y="417.6" font-size="9.8" text-anchor="middle" fill="#111">94</text>
<text x="513.1" y="417.6" font-size="9.8" text-anchor="middle" fill="#111">96</text>
<text x="536.9" y="417.6" font-size="9.8" text-anchor="middle" fill="#111">98</text>
<text x="560.6999999999999" y="417.6" font-size="9.8" text-anchor="middle" fill="#111">100</text>
<text x="488.7" y="430.3" font-size="9.6" text-anchor="middle" fill="#111">SpO<tspan font-size="6.5" dy="2">2</tspan><tspan dy="-2"> (%)</tspan></text>
<text x="341.2" y="202.8" font-size="10" text-anchor="middle" fill="#111">SpO<tspan font-size="6.8" dy="2">2</tspan><tspan dy="-2"> (%)</tspan></text>
<circle cx="418.9" cy="267.9" r="1.6" fill="#b070ff"/>
<circle cx="427.2" cy="258.0" r="1.6" fill="#b070ff"/>
<circle cx="432.7" cy="249.1" r="1.6" fill="#b070ff"/>
<circle cx="434.7" cy="254.1" r="1.6" fill="#b070ff"/>
<circle cx="468.0" cy="237.4" r="1.6" fill="#e066ff"/>
<circle cx="473.8" cy="252.3" r="1.6" fill="#e066ff"/>
<circle cx="470.3" cy="269.5" r="1.6" fill="#e066ff"/>
<circle cx="474.0" cy="263.8" r="1.6" fill="#ff6070"/>
<circle cx="472.2" cy="274.1" r="1.6" fill="#ff6070"/>
<circle cx="515.9" cy="246.6" r="1.6" fill="#b070ff"/>
<circle cx="507.8" cy="259.4" r="1.6" fill="#b070ff"/>
<circle cx="512.0" cy="274.8" r="1.6" fill="#b070ff"/>
<circle cx="506.2" cy="277.8" r="1.6" fill="#b070ff"/>
<circle cx="518.2" cy="285.2" r="1.6" fill="#b070ff"/>
<circle cx="515.4" cy="287.5" r="1.6" fill="#b070ff"/>
<circle cx="509.0" cy="290.2" r="1.6" fill="#b070ff"/>
<circle cx="522.8" cy="282.4" r="1.6" fill="#ff6070"/>
<circle cx="461.1" cy="279.2" r="1.6" fill="#18c0a0"/>
<circle cx="441.8" cy="287.0" r="1.6" fill="#ff70c0"/>
<circle cx="454.3" cy="302.4" r="1.6" fill="#ff70c0"/>
<circle cx="472.2" cy="308.6" r="1.6" fill="#ff6070"/>
<circle cx="477.2" cy="310.0" r="1.6" fill="#e08a20"/>
<circle cx="483.2" cy="308.6" r="1.6" fill="#ff6070"/>
<circle cx="467.1" cy="310.5" r="1.6" fill="#b070ff"/>
<circle cx="473.3" cy="313.9" r="1.6" fill="#18c0a0"/>
<circle cx="481.4" cy="320.8" r="1.6" fill="#b8a000"/>
<circle cx="491.0" cy="318.5" r="1.6" fill="#b8a000"/>
<circle cx="513.1" cy="304.7" r="1.6" fill="#e066ff"/>
<circle cx="518.2" cy="307.7" r="1.6" fill="#b070ff"/>
<circle cx="523.9" cy="311.6" r="1.6" fill="#ff6070"/>
<circle cx="524.6" cy="313.9" r="1.6" fill="#18c0a0"/>
<circle cx="510.1" cy="319.7" r="1.6" fill="#ff70c0"/>
<circle cx="521.0" cy="321.0" r="1.6" fill="#18c0a0"/>
<circle cx="524.0" cy="322.0" r="1.6" fill="#ff6070"/>
<circle cx="531.0" cy="325.0" r="1.6" fill="#b8a000"/>
<circle cx="534.0" cy="331.0" r="1.6" fill="#c08000"/>
<circle cx="520.0" cy="325.0" r="1.6" fill="#3399ff"/>
<circle cx="428.0" cy="325.0" r="1.6" fill="#3399ff"/>
<circle cx="430.0" cy="330.0" r="1.6" fill="#3399ff"/>
<circle cx="429.0" cy="334.0" r="1.6" fill="#3399ff"/>
<circle cx="428.0" cy="338.0" r="1.6" fill="#3399ff"/>
<circle cx="431.0" cy="339.0" r="1.6" fill="#00a8e8"/>
<circle cx="437.0" cy="332.0" r="1.6" fill="#c08000"/>
<circle cx="438.0" cy="336.0" r="1.6" fill="#c08000"/>
<circle cx="440.0" cy="339.0" r="1.6" fill="#b8a000"/>
<circle cx="446.0" cy="343.0" r="1.6" fill="#3399ff"/>
<circle cx="449.0" cy="337.0" r="1.6" fill="#c08000"/>
<circle cx="452.0" cy="335.0" r="1.6" fill="#b8a000"/>
<circle cx="456.0" cy="333.0" r="1.6" fill="#b8a000"/>
<circle cx="460.0" cy="335.0" r="1.6" fill="#3399ff"/>
<circle cx="453.0" cy="345.0" r="1.6" fill="#3399ff"/>
<circle cx="455.0" cy="352.0" r="1.6" fill="#30c050"/>
<circle cx="457.0" cy="347.0" r="1.6" fill="#18c0a0"/>
<circle cx="462.0" cy="347.0" r="1.6" fill="#30c050"/>
<circle cx="468.0" cy="339.0" r="1.6" fill="#ff70c0"/>
<circle cx="477.0" cy="339.0" r="1.6" fill="#e066ff"/>
<circle cx="478.0" cy="349.0" r="1.6" fill="#e066ff"/>
<circle cx="494.0" cy="349.0" r="1.6" fill="#30c050"/>
<circle cx="495.0" cy="355.0" r="1.6" fill="#30c050"/>
<circle cx="496.0" cy="352.0" r="1.6" fill="#ff6070"/>
<circle cx="510.0" cy="335.0" r="1.6" fill="#3399ff"/>
<circle cx="512.0" cy="337.0" r="1.6" fill="#3399ff"/>
<circle cx="514.0" cy="343.0" r="1.6" fill="#3399ff"/>
<circle cx="511.0" cy="350.0" r="1.6" fill="#e066ff"/>
<circle cx="514.0" cy="344.0" r="1.6" fill="#b070ff"/>
<circle cx="518.0" cy="345.0" r="1.6" fill="#18c0a0"/>
<circle cx="521.0" cy="348.0" r="1.6" fill="#18c0a0"/>
<circle cx="520.0" cy="341.0" r="1.6" fill="#b8a000"/>
<circle cx="522.0" cy="349.0" r="1.6" fill="#00a8e8"/>
<circle cx="523.0" cy="353.0" r="1.6" fill="#00a8e8"/>
<circle cx="521.0" cy="355.0" r="1.6" fill="#b8a000"/>
<circle cx="523.0" cy="358.0" r="1.6" fill="#c08000"/>
<circle cx="520.0" cy="363.0" r="1.6" fill="#c08000"/>
<circle cx="524.0" cy="365.0" r="1.6" fill="#b8a000"/>
<circle cx="529.0" cy="361.0" r="1.6" fill="#c08000"/>
<circle cx="532.0" cy="352.0" r="1.6" fill="#b8a000"/>
<circle cx="530.0" cy="345.0" r="1.6" fill="#60c020"/>
<circle cx="537.0" cy="359.0" r="1.6" fill="#30c050"/>
<circle cx="538.0" cy="368.0" r="1.6" fill="#b8a000"/>
<circle cx="541.0" cy="360.0" r="1.6" fill="#30c050"/>
<circle cx="428.0" cy="345.0" r="1.6" fill="#ff70c0"/>
<circle cx="428.0" cy="350.0" r="1.6" fill="#ff70c0"/>
<circle cx="428.0" cy="353.0" r="1.6" fill="#ff70c0"/>
<circle cx="440.0" cy="352.0" r="1.6" fill="#ff70c0"/>
<circle cx="438.0" cy="366.0" r="1.6" fill="#ff70c0"/>
<circle cx="451.0" cy="371.0" r="1.6" fill="#3399ff"/>
<circle cx="452.0" cy="375.0" r="1.6" fill="#18c0a0"/>
<circle cx="464.1" cy="364.7" r="1.6" fill="#18c0a0"/>
<circle cx="464.6" cy="367.3" r="1.6" fill="#18c0a0"/>
<circle cx="473.3" cy="362.0" r="1.6" fill="#b8a000"/>
<circle cx="475.1" cy="365.2" r="1.6" fill="#b8a000"/>
<circle cx="457.0" cy="379.1" r="1.6" fill="#18c0a0"/>
<circle cx="510.0" cy="369.0" r="1.6" fill="#ff70c0"/>
<circle cx="510.0" cy="373.0" r="1.6" fill="#ff70c0"/>
<circle cx="514.0" cy="371.0" r="1.6" fill="#30c050"/>
<circle cx="519.0" cy="371.0" r="1.6" fill="#3399ff"/>
<circle cx="521.0" cy="370.0" r="1.6" fill="#18c0a0"/>
<circle cx="521.0" cy="373.0" r="1.6" fill="#b8a000"/>
<circle cx="522.0" cy="374.0" r="1.6" fill="#b8a000"/>
<circle cx="520.0" cy="382.0" r="1.6" fill="#b8a000"/>
<circle cx="521.0" cy="385.0" r="1.6" fill="#18c0a0"/>
<circle cx="522.0" cy="389.0" r="1.6" fill="#18c0a0"/>
<circle cx="523.0" cy="392.0" r="1.6" fill="#18c0a0"/>
<circle cx="530.3" cy="384.9" r="1.6" fill="#30c050"/>
<circle cx="537.6" cy="383.1" r="1.6" fill="#30c050"/>
<circle cx="538.0" cy="359.0" r="1.6" fill="#30c050"/>
<circle cx="522.0" cy="397.0" r="1.6" fill="#18c0a0"/>
<circle cx="537.6" cy="351.5" r="1.6" fill="#30c050"/>
<circle cx="525.8" cy="362.0" r="1.6" fill="#30c050"/>
<line x1="418.70" y1="254.80" x2="511.10" y2="279.10" stroke="#9a70ff" stroke-width="1.0" stroke-dasharray="1.2,1.2"/>
<line x1="467.80" y1="264.50" x2="518.00" y2="279.10" stroke="#d050f0" stroke-width="1.0"/>
<line x1="472.50" y1="289.40" x2="526.30" y2="304.00" stroke="#ff6070" stroke-width="1.0"/>
<line x1="461.40" y1="310.90" x2="529.10" y2="325.20" stroke="#10b0a0" stroke-width="1.2"/>
<line x1="456.20" y1="324.00" x2="531.90" y2="337.00" stroke="#b0a000" stroke-width="1.0"/>
<line x1="429.90" y1="330.00" x2="519.30" y2="345.00" stroke="#2090f0" stroke-width="1.0" stroke-dasharray="1.2,1.2"/>
<line x1="472.00" y1="333.70" x2="519.30" y2="341.00" stroke="#e060e0" stroke-width="1.0"/>
<line x1="449.60" y1="339.00" x2="516.60" y2="347.60" stroke="#2090f0" stroke-width="1.0" stroke-dasharray="1.2,1.2"/>
<line x1="456.20" y1="344.20" x2="525.80" y2="352.80" stroke="#20b040" stroke-width="1.1"/>
<line x1="428.60" y1="346.30" x2="511.40" y2="354.20" stroke="#ff70c0" stroke-width="1.0" stroke-dasharray="1.2,1.2"/>
<line x1="454.90" y1="352.00" x2="525.80" y2="358.00" stroke="#a0a000" stroke-width="1.0" stroke-dasharray="1.2,1.2"/>
<line x1="462.80" y1="355.50" x2="539.00" y2="361.50" stroke="#50c020" stroke-width="1.1"/>
<line x1="450.40" y1="370.40" x2="523.20" y2="371.20" stroke="#10b080" stroke-width="1.1"/>
<line x1="419.50" y1="310.80" x2="538.80" y2="333.50" stroke="#808080" stroke-width="2.3"/>
<text x="389.2" y="307.6" font-size="9.5" text-anchor="start" font-weight="bold" fill="#111">Slope = - 0.12 *</text>
<line x1="609.50" y1="241.50" x2="609.50" y2="405.90" stroke="#444" stroke-width="1"/>
<line x1="609.80" y1="405.50" x2="679.70" y2="405.50" stroke="#444" stroke-width="1"/>
<line x1="607.30" y1="255.80" x2="609.80" y2="255.80" stroke="#444" stroke-width="0.7"/>
<text x="605.3" y="259.5" font-size="11.2" text-anchor="end" fill="#111">0.00</text>
<line x1="607.30" y1="273.50" x2="609.80" y2="273.50" stroke="#444" stroke-width="0.7"/>
<text x="605.3" y="277.2" font-size="11.2" text-anchor="end" fill="#111">−0.05</text>
<line x1="607.30" y1="291.20" x2="609.80" y2="291.20" stroke="#444" stroke-width="0.7"/>
<text x="605.3" y="294.9" font-size="11.2" text-anchor="end" fill="#111">−0.10</text>
<line x1="607.30" y1="308.90" x2="609.80" y2="308.90" stroke="#444" stroke-width="0.7"/>
<text x="605.3" y="312.59999999999997" font-size="11.2" text-anchor="end" fill="#111">−0.15</text>
<line x1="607.30" y1="326.60" x2="609.80" y2="326.60" stroke="#444" stroke-width="0.7"/>
<text x="605.3" y="330.3" font-size="11.2" text-anchor="end" fill="#111">−0.20</text>
<line x1="607.30" y1="344.30" x2="609.80" y2="344.30" stroke="#444" stroke-width="0.7"/>
<text x="605.3" y="348.0" font-size="11.2" text-anchor="end" fill="#111">−0.25</text>
<line x1="607.30" y1="362.00" x2="609.80" y2="362.00" stroke="#444" stroke-width="0.7"/>
<text x="605.3" y="365.7" font-size="11.2" text-anchor="end" fill="#111">−0.30</text>
<line x1="607.30" y1="379.70" x2="609.80" y2="379.70" stroke="#444" stroke-width="0.7"/>
<text x="605.3" y="383.4" font-size="11.2" text-anchor="end" fill="#111">−0.35</text>
<line x1="607.30" y1="397.40" x2="609.80" y2="397.40" stroke="#444" stroke-width="0.7"/>
<text x="605.3" y="401.09999999999997" font-size="11.2" text-anchor="end" fill="#111">−0.40</text>
<line x1="612.30" y1="405.90" x2="612.30" y2="408.30" stroke="#444" stroke-width="0.7"/>
<text x="612.3" y="417.5" font-size="10.3" text-anchor="middle" fill="#111">0</text>
<line x1="633.90" y1="405.90" x2="633.90" y2="408.30" stroke="#444" stroke-width="0.7"/>
<text x="633.9" y="417.5" font-size="10.3" text-anchor="middle" fill="#111">2</text>
<line x1="655.50" y1="405.90" x2="655.50" y2="408.30" stroke="#444" stroke-width="0.7"/>
<text x="655.5" y="417.5" font-size="10.3" text-anchor="middle" fill="#111">4</text>
<line x1="677.10" y1="405.90" x2="677.10" y2="408.30" stroke="#444" stroke-width="0.7"/>
<text x="677.0999999999999" y="417.5" font-size="10.3" text-anchor="middle" fill="#111">6</text>
<text x="649.3" y="431" font-size="9.5" text-anchor="middle" fill="#111">Count</text>
<text x="574.5" y="316.7" font-size="9.3" text-anchor="middle" fill="#111" transform="rotate(-90 574.5 316.7)">Estimated Slopes</text>
<rect x="609.8" y="248.9" width="11.3" height="14.9" fill="#4d4d4d" stroke="#333" stroke-width="0.5"/>
<rect x="609.8" y="263.8" width="55" height="14.5" fill="#4d4d4d" stroke="#333" stroke-width="0.5"/>
<rect x="609.8" y="278.3" width="55" height="15.2" fill="#4d4d4d" stroke="#333" stroke-width="0.5"/>
<rect x="609.8" y="293.5" width="33.3" height="15.2" fill="#4d4d4d" stroke="#333" stroke-width="0.5"/>
<rect x="609.8" y="338.5" width="11.7" height="15.3" fill="#4d4d4d" stroke="#333" stroke-width="0.5"/>
<rect x="609.8" y="384" width="22.3" height="14.8" fill="#4d4d4d" stroke="#333" stroke-width="0.5"/>
</svg></body></html>
